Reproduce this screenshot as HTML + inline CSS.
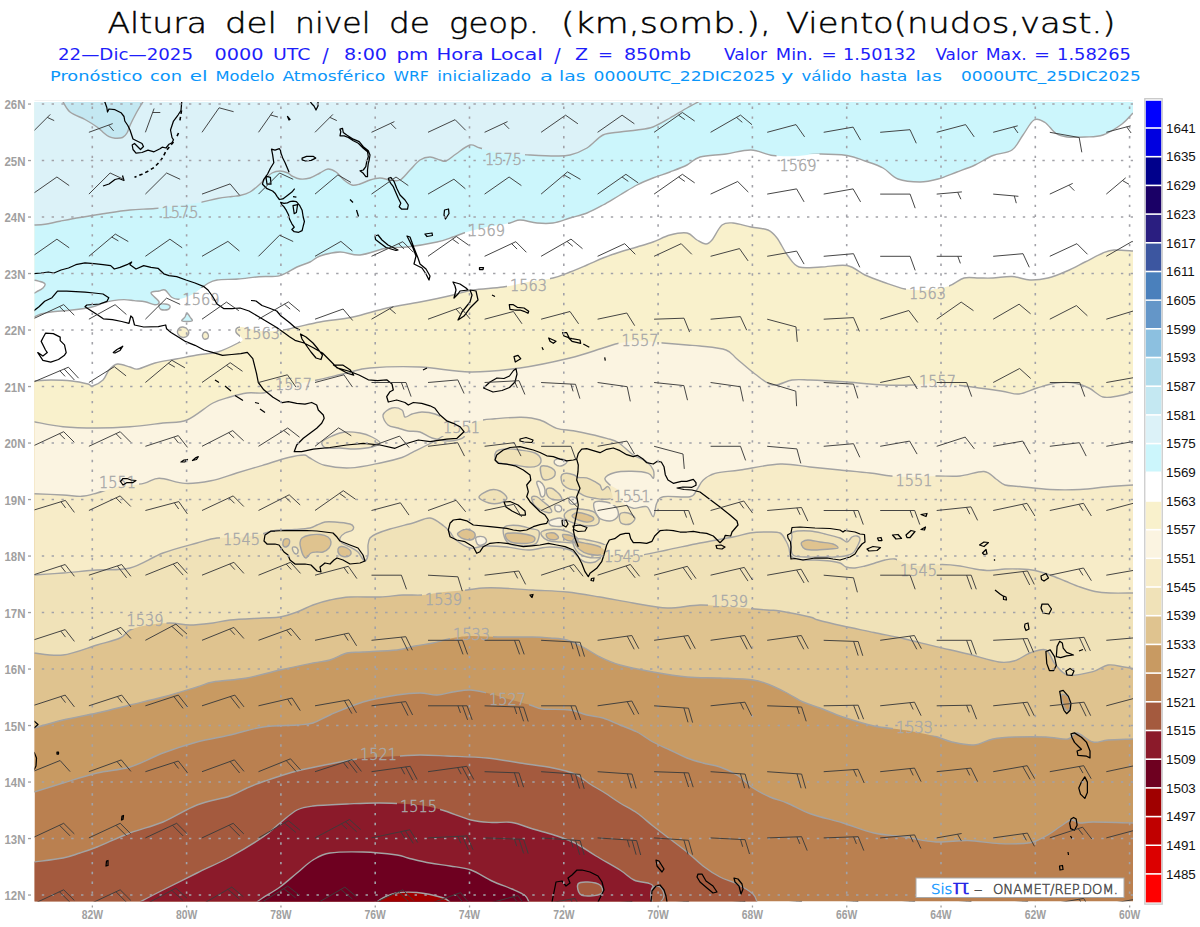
<!DOCTYPE html>
<html><head><meta charset="utf-8"><title>Altura del nivel de geop. 850mb</title>
<style>html,body{margin:0;padding:0;background:#fff;}svg{display:block;}
svg{font-family:"Liberation Sans","DejaVu Sans",sans-serif;}</style></head><body>
<svg width="1200" height="927" viewBox="0 0 1200 927">
<defs><clipPath id="mc"><rect x="34.5" y="102" width="1098.5" height="799.5"/></clipPath></defs>
<rect width="1200" height="927" fill="#fff"/>
<rect x="34.5" y="100" width="1098.5" height="0.9" fill="#F1F1F1"/>
<g clip-path="url(#mc)" stroke="none">
<rect x="34.5" y="102" width="1098.5" height="799.5" fill="#BA8050"/>
<path d="M34,792C38.8,790.5 52.5,786.2 63,783C73.5,779.8 85.8,775.7 97,773C108.2,770.3 119,770.3 130,767C141,763.7 151.8,757.2 163,753C174.2,748.8 185.8,745 197,742C208.2,739 219,737.5 230,735C241,732.5 251.8,728.7 263,727C274.2,725.3 288.7,725.7 297,725C305.3,724.3 307.5,724.7 313,723C318.5,721.3 321.7,718.5 330,715C338.3,711.5 351.8,705.3 363,702C374.2,698.7 387.5,696.5 397,695C406.5,693.5 413.3,693 420,693C426.7,693 431.5,695.2 437,695C442.5,694.8 447.5,692.8 453,692C458.5,691.2 464.3,689.8 470,690C475.7,690.2 480.7,691.5 487,693C493.3,694.5 500.8,697 508,699C515.2,701 524.2,703.3 530,705C535.8,706.7 536.3,708.2 543,709C549.7,709.8 562.7,709 570,710C577.3,711 581.5,713.7 587,715C592.5,716.3 597.5,716.3 603,718C608.5,719.7 614.3,722.7 620,725C625.7,727.3 631.5,729.2 637,732C642.5,734.8 647.5,739 653,742C658.5,745 664.3,747.3 670,750C675.7,752.7 681.5,755.8 687,758C692.5,760.2 697.5,761.5 703,763C708.5,764.5 714.3,765 720,767C725.7,769 731.5,771.5 737,775C742.5,778.5 747.5,784.3 753,788C758.5,791.7 764.3,794.5 770,797C775.7,799.5 780.2,800.2 787,803C793.8,805.8 801.7,810.7 811,814C820.3,817.3 832.5,819.8 843,823C853.5,826.2 863.7,830.7 874,833C884.3,835.3 894.7,835.5 905,837C915.3,838.5 925.5,841.4 936,842C946.5,842.6 957.5,840.2 968,840.5C978.5,840.8 988.7,843.2 999,843.6C1009.3,844 1022.2,844 1030,842.7C1037.8,841.4 1040.8,838.8 1046,836C1051.2,833.2 1056.8,828.7 1061,826C1065.2,823.3 1067.8,820.5 1071,820C1074.2,819.5 1076.3,822.7 1080,823C1083.7,823.3 1084.2,822 1093,822C1101.8,822 1126.3,822.8 1133,823L1138,823 L1138,97 L29.5,97 L29.5,792Z" fill="#C89A62"/>
<path d="M34,728C38.8,726.7 52.5,722.5 63,720C73.5,717.5 85.8,715.5 97,713C108.2,710.5 119,707.7 130,705C141,702.3 151.8,700 163,697C174.2,694 188.7,689.5 197,687C205.3,684.5 204.7,683.5 213,682C221.3,680.5 235.8,680 247,678C258.2,676 269,672.5 280,670C291,667.5 304.7,664.7 313,663C321.3,661.3 324.3,661.7 330,660C335.7,658.3 341.5,654.3 347,653C352.5,651.7 354.7,652.5 363,652C371.3,651.5 388.3,651 397,650C405.7,649 409,647.2 415,646C421,644.8 426.7,644.3 433,643C439.3,641.7 446.5,639.2 453,638C459.5,636.8 464.2,636.2 472,636C479.8,635.8 489.8,636.8 500,637C510.2,637.2 524.7,636.8 533,637C541.3,637.2 544.3,637.5 550,638C555.7,638.5 561.5,638.5 567,640C572.5,641.5 577.5,644.2 583,647C588.5,649.8 593.8,654 600,657C606.2,660 611.2,662.5 620,665C628.8,667.5 641.8,670 653,672C664.2,674 675.8,676 687,677C698.2,678 709,677.5 720,678C731,678.5 744.7,678.8 753,680C761.3,681.2 764.3,682.8 770,685C775.7,687.2 781.5,690.2 787,693C792.5,695.8 797.5,699.5 803,702C808.5,704.5 813.3,705.5 820,708C826.7,710.5 834,714 843,717C852,720 863.8,723.8 874,726C884.2,728.2 894.2,728.4 904,730C913.8,731.6 925,733.7 933,735.7C941,737.7 945.2,740.5 952,742C958.8,743.5 967.2,745.5 974,745C980.8,744.5 986.2,740.3 993,739C999.8,737.7 1006.2,737.3 1015,737C1023.8,736.7 1037.2,736.7 1046,737C1054.8,737.3 1062.8,739.7 1068,739C1073.2,738.3 1072.8,732.5 1077,733C1081.2,733.5 1087.8,740.8 1093,742C1098.2,743.2 1101.3,740.5 1108,740C1114.7,739.5 1128.8,739.2 1133,739L1138,739 L1138,97 L29.5,97 L29.5,728Z" fill="#DFC38F"/>
<path d="M34,653C38.8,653.3 52.5,656.3 63,655C73.5,653.7 87.5,647.8 97,645C106.5,642.2 114.5,640.5 120,638C125.5,635.5 125.3,632.2 130,630C134.7,627.8 141.3,626.2 148,625C154.7,623.8 163,623 170,623C177,623 182.8,625 190,625C197.2,625 206.3,623.8 213,623C219.7,622.2 221.7,620.8 230,620C238.3,619.2 254.7,618.5 263,618C271.3,617.5 274.3,618 280,617C285.7,616 291.5,614 297,612C302.5,610 307.5,607 313,605C318.5,603 323.8,601.3 330,600C336.2,598.7 341.7,597.5 350,597C358.3,596.5 371.2,597.3 380,597C388.8,596.7 395.8,595.3 403,595C410.2,594.7 416.2,595.5 423,595C429.8,594.5 436.7,592.8 444,592C451.3,591.2 460.5,590.7 467,590C473.5,589.3 477.5,588.3 483,588C488.5,587.7 491.7,587.7 500,588C508.3,588.3 521.8,589.3 533,590C544.2,590.7 555.8,590.8 567,592C578.2,593.2 589,595.2 600,597C611,598.8 621.8,601.2 633,603C644.2,604.8 655.8,607.7 667,608C678.2,608.3 689.5,605.2 700,605C710.5,604.8 718.8,606.2 730,607C741.2,607.8 758.7,609.3 767,610C775.3,610.7 772.8,609.8 780,611C787.2,612.2 803.7,615.5 810,617C816.3,618.5 812.5,618.5 818,620C823.5,621.5 833.7,623.9 843,626C852.3,628.1 863.7,630.3 874,632.5C884.3,634.7 894.7,636.6 905,639C915.3,641.4 925.5,644.1 936,646.6C946.5,649.1 957.5,651.4 968,654C978.5,656.6 991.2,660.9 999,662C1006.8,663.1 1009.8,662.2 1015,660.7C1020.2,659.2 1024.8,654.8 1030,653C1035.2,651.2 1041.8,648.2 1046,650C1050.2,651.8 1051.3,659.8 1055,664C1058.7,668.2 1061.7,673.7 1068,675C1074.3,676.3 1086.3,673.3 1093,671.6C1099.7,669.9 1102.8,665.8 1108,665C1113.2,664.2 1119.8,666.4 1124,667C1128.2,667.6 1131.5,668.2 1133,668.5L1138,668.5 L1138,97 L29.5,97 L29.5,653Z" fill="#F0E2B8"/>
<path d="M34,575C38.8,574.7 52.5,573.8 63,573C73.5,572.2 85.8,570.8 97,570C108.2,569.2 119,570.8 130,568C141,565.2 151.8,557.2 163,553C174.2,548.8 188,545.5 197,543C206,540.5 209.7,538.9 217,538C224.3,537.1 233.5,538.2 241,537.5C248.5,536.8 256.3,535.2 262,534C267.7,532.8 269.5,531.2 275,530.5C280.5,529.8 289.2,529.9 295,529.5C300.8,529.1 306.3,528.8 310,528C313.7,527.2 314.5,526 317,525C319.5,524 322,522.5 325,522C328,521.5 330.8,521.7 335,522C339.2,522.3 346.9,523.2 350,524C353.1,524.8 353.2,525.9 353.5,527C353.8,528.1 353.4,529.5 352,530.5C350.6,531.5 347,531.8 345,533C343,534.2 340.5,536.3 340,538C339.5,539.7 340.3,541.5 342,543C343.7,544.5 347.3,545.5 350,547C352.7,548.5 356,550.2 358,552C360,553.8 360.8,556.5 362,558C363.2,559.5 364,561.5 365,561C366,560.5 367.5,557.7 368,555C368.5,552.3 367.7,547.8 368,545C368.3,542.2 368.7,539.8 370,538C371.3,536.2 372.7,535.5 376,534C379.3,532.5 383.8,530.8 390,529C396.2,527.2 406.3,524.8 413,523C419.7,521.2 424.9,517.5 430,518C435.1,518.5 440.4,523.6 443.8,526C447.2,528.4 448.3,530.2 450.3,532.5C452.3,534.8 452.7,537.4 456,540C459.3,542.6 465.2,547 470,548C474.8,549 478.8,546.2 485,546C491.2,545.8 499.8,546.3 507,547C514.2,547.7 520.8,550 528,550C535.2,550 543,547 550,547C557,547 565.3,548.3 570,550C574.7,551.7 575.5,555 578,557C580.5,559 582.2,561.2 585,562C587.8,562.8 591.8,563 595,562C598.2,561 599.5,557.2 604,556C608.5,554.8 615.8,555.2 622,555C628.2,554.8 633.5,555.8 641,555C648.5,554.2 657.2,552 667,550C676.8,548 689,545.2 700,543C711,540.8 724.7,538.7 733,537C741.3,535.3 744.3,533.8 750,533C755.7,532.2 762,532 767,532C772,532 776.8,531.5 780,533C783.2,534.5 784.5,538.5 786,541C787.5,543.5 788.2,545.5 789,548C789.8,550.5 789.2,554.1 791,556C792.8,557.9 796,558.8 800,559.5C804,560.2 810,559.8 815,560C820,560.2 825.8,560.5 830,561C834.2,561.5 837.3,562 840,563C842.7,564 843.5,566.2 846,567C848.5,567.8 851.8,568.2 855,568C858.2,567.8 861.7,566.8 865,566C868.3,565.2 871.7,564 875,563C878.3,562 881.7,560.7 885,560C888.3,559.3 891.7,558.5 895,559C898.3,559.5 901.2,561.8 905,563C908.8,564.2 911.8,565.8 918,566C924.2,566.2 935,564.5 942,564.5C949,564.5 954.5,565.2 960,566C965.5,566.8 970,568.2 975,569C980,569.8 985,570.5 990,570.5C995,570.5 1000,569.2 1005,569C1010,568.8 1015,568.8 1020,569C1025,569.2 1030,569.5 1035,570.5C1040,571.5 1045,573.2 1050,575C1055,576.8 1060,579 1065,581C1070,583 1075,585.2 1080,587C1085,588.8 1090,590.5 1095,591.5C1100,592.5 1103.7,592.8 1110,593C1116.3,593.2 1129.2,593 1133,593L1138,593 L1138,97 L29.5,97 L29.5,575Z" fill="#F7ECC8"/>
<path d="M34,493.7C38.8,493.9 55,494.6 63,495C71,495.4 76,496.6 81.7,496.3C87.4,496 91.1,494.6 97,493C102.9,491.4 109.2,488.6 117,487C124.8,485.4 136.7,484.9 143.7,483.4C150.7,481.9 152.3,478.2 159.2,478.2C166.1,478.2 176.4,483 185,483.4C193.6,483.8 202.3,482.5 210.9,480.8C219.5,479.1 228.1,475.6 236.7,473C245.3,470.4 254,467.9 262.6,465.3C271.2,462.7 281.5,459.2 288.4,457.5C295.3,455.8 300.6,455 304,455C307.4,455 305.6,455.8 309,457.5C312.4,459.2 317.7,463.6 324.6,465.3C331.5,467 340.9,468.3 350.4,467.9C359.9,467.5 372.8,464.4 381.4,462.7C390,461 396.8,459.2 402,457.5C407.2,455.8 407.2,455 412.4,452.4C417.6,449.8 426.7,445.4 433,442C439.3,438.6 444.5,434.8 450,432C455.5,429.2 460.5,427 466,425C471.5,423 478.2,421 483,420C487.8,419 488.7,419.3 495,418.8C501.3,418.3 513.5,417 521,417.2C528.5,417.4 534,418.1 540,420C546,421.9 551.2,426.5 556.7,428.3C562.2,430.1 567.8,429.8 573.3,430.8C578.8,431.8 584.4,432.9 590,434.2C595.6,435.4 602,436.9 606.7,438.3C611.4,439.7 613.9,439.7 618.3,442.5C622.7,445.3 628.6,451.8 633.3,455C638,458.2 643.4,459.2 646.7,461.7C650,464.2 652.2,467.2 653.3,470C654.4,472.8 654.1,477.8 653.3,478.3C652.5,478.9 651.9,474.5 648.3,473.3C644.7,472.1 637.2,471.4 631.7,471.3C626.2,471.2 619.5,471.3 615,472.5C610.5,473.7 605.8,476.2 605,478.3C604.2,480.4 607.8,483.1 610,485C612.2,486.9 616.6,488.1 618.3,490C620,491.9 619.2,494.5 620,496.7C620.8,498.9 621.1,501.4 623.3,503.3C625.5,505.2 629.4,507.7 633.3,508.3C637.2,508.9 643.4,505.3 646.7,506.7C650,508.1 651.6,517.3 653.3,516.7C655,516.1 655,506.6 656.7,503.3C658.4,500 657.8,497.8 663.3,496.7C668.8,495.6 684.4,497.8 690,496.7C695.6,495.6 694.5,492.8 696.7,490C698.9,487.2 700.2,482.8 703.3,480C706.3,477.2 708.9,475 715,473.3C721.1,471.6 729.2,471.6 740,470C750.8,468.4 768.3,464.5 780,464C791.7,463.5 800,466 810,467C820,468 830,469 840,470C850,471 861.5,472 870,473C878.5,474 883.7,475.3 891,476C898.3,476.7 906.5,477 914,477C921.5,477 928.3,476.2 936,476C943.7,475.8 952,476.8 960,476C968,475.2 978,471 984,471.5C990,472 992.5,476.8 996,479C999.5,481.2 1001,483.8 1005,485C1009,486.2 1012.5,485.8 1020,486.5C1027.5,487.2 1040,489 1050,489.5C1060,490 1070,490 1080,489.5C1090,489 1101.2,487.2 1110,486.5C1118.8,485.8 1129.2,485.2 1133,485L1138,485 L1138,97 L29.5,97 L29.5,493.7Z" fill="#FBF4E1"/>
<path d="M34,421.7C38.8,422.5 52.5,425.6 63,426.7C73.5,427.8 85.8,428 97,428C108.2,428 119,427.5 130,426.7C141,425.9 153.5,424.1 163,423C172.5,421.9 178.7,423.3 187,420C195.3,416.7 205.8,406.8 213,403C220.2,399.2 224.3,398.7 230,397C235.7,395.3 241.5,393.7 247,393C252.5,392.3 258.7,393.5 263,393C267.3,392.5 268,391.3 273,390C278,388.7 285.7,386.7 293,385C300.3,383.3 308,382 317,380C326,378 338.2,375 347,373C355.8,371 357.8,369 370,368C382.2,367 403.3,366.3 420,367C436.7,367.7 453.3,371.8 470,372C486.7,372.2 503.3,370.3 520,368C536.7,365.7 556.2,361.3 570,358C583.8,354.7 594.7,350.5 603,348C611.3,345.5 613.8,344.2 620,343C626.2,341.8 632.8,341 640,341C647.2,341 655.2,342.3 663,343C670.8,343.7 680.8,344.5 687,345C693.2,345.5 693.5,345.2 700,346C706.5,346.8 719.8,347.8 726,350C732.2,352.2 732.2,355 737,359C741.8,363 749,369.7 755,374C761,378.3 766.8,384 773,385C779.2,386 785.8,380.8 792,380C798.2,379.2 800.8,379.7 810,380C819.2,380.3 834.8,381.2 847,382C859.2,382.8 872,384.5 883,385C894,385.5 904,385.3 913,385C922,384.7 928.5,382.8 937,383C945.5,383.2 953.3,384.7 964,386C974.7,387.3 991.8,389.7 1001,391C1010.2,392.3 1013,394.5 1019,394C1025,393.5 1030.8,389.8 1037,388C1043.2,386.2 1049.8,383.8 1056,383C1062.2,382.2 1068.5,382.2 1074,383C1079.5,383.8 1084.2,385.7 1089,388C1093.8,390.3 1098.2,395.7 1103,397C1107.8,398.3 1113,396.8 1118,396C1123,395.2 1130.5,392.7 1133,392L1138,392 L1138,97 L29.5,97 L29.5,421.7Z" fill="#F9F1CC"/>
<path d="M34,381C36.8,380.8 44.7,380 51,380C57.3,380 65.8,380.3 72,381C78.2,381.7 84.6,383.2 88,384C91.4,384.8 90,386.7 92.5,386C95,385.3 100.2,382.7 103,380C105.8,377.3 106.6,372.7 109,370C111.4,367.3 114,364.5 117.5,364C121,363.5 126.6,366.2 130,367C133.4,367.8 133.8,369.7 138,369C142.2,368.3 148.7,364.7 155,363C161.3,361.3 169,360.3 176,359C183,357.7 190.1,356.2 197,355C203.9,353.8 210.7,354 217.5,352C224.3,350 233.8,345.2 238,343C242.2,340.8 242.8,340.8 242.5,339C242.2,337.2 236.4,334 236,332C235.6,330 235.7,327.2 240,327C244.3,326.8 254.8,330.5 262,331C269.2,331.5 277.2,330.7 283,330C288.8,329.3 290.8,328.3 297,327C303.2,325.7 310.7,323.7 320,322C329.3,320.3 341.8,319.3 353,317C364.2,314.7 375.8,310.5 387,308C398.2,305.5 409,304.2 420,302C431,299.8 444.2,297 453,295C461.8,293 464.7,291.3 473,290C481.3,288.7 493.8,288.3 503,287C512.2,285.7 519.7,283.5 528,282C536.3,280.5 546,279.7 553,278C560,276.3 564.3,274.2 570,272C575.7,269.8 581.5,267.3 587,265C592.5,262.7 597.5,260.2 603,258C608.5,255.8 614.3,253.8 620,252C625.7,250.2 631.5,248.7 637,247C642.5,245.3 647.5,244 653,242C658.5,240 664.3,236.5 670,235C675.7,233.5 682.5,232.2 687,233C691.5,233.8 693.8,238.2 697,240C700.2,241.8 703.5,244 706,244C708.5,244 709.3,243.2 712,240C714.7,236.8 718.5,227.8 722,225C725.5,222.2 728.2,222.7 733,223C737.8,223.3 745.2,225.8 751,227C756.8,228.2 763.7,228.2 768,230C772.3,231.8 773.7,233.7 777,238C780.3,242.3 784.3,251.2 788,256C791.7,260.8 793.5,265.2 799,267C804.5,268.8 813,267.2 821,267C829,266.8 839.7,264.2 847,265.5C854.3,266.8 859,272.2 865,275C871,277.8 876.3,279.7 883,282C889.7,284.3 897.7,287.7 905,289C912.3,290.3 919.7,290.5 927,290C934.3,289.5 942.8,288 949,286C955.2,284 959,279.3 964,278C969,276.7 974.2,278 979,278C983.8,278 987.5,278.2 993,278C998.5,277.8 1005.8,276.2 1012,276.5C1018.2,276.8 1024,279.8 1030,280C1036,280.2 1041.8,279.5 1048,278C1054.2,276.5 1060.8,273.7 1067,271C1073.2,268.3 1079,265 1085,262C1091,259 1098.2,255 1103,253C1107.8,251 1109,250.3 1114,250C1119,249.7 1129.8,250.8 1133,251L1138,251 L1138,97 L29.5,97 L29.5,381Z" fill="#FFFFFF"/>
<path d="M34,317C35.2,316.5 38.2,314.8 41,314C43.8,313.2 45.8,312.7 51,312C56.2,311.3 65.2,310.8 72,310C78.8,309.2 86.8,308.2 92,307C97.2,305.8 99.5,304.1 103,303C106.5,301.9 109.5,301.2 113,300.6C116.5,300 120.5,299.6 124,299.6C127.5,299.6 130.5,300.2 134,300.6C137.5,301 141.5,301 145,301.7C148.5,302.4 152.7,304.8 155,304.8C157.3,304.8 159.7,303.7 159,301.7C158.3,299.7 151,294.8 151,293C151,291.2 156.7,291.5 159,291C161.3,290.5 162.8,288.9 165,290C167.2,291.1 169.5,296 172,297.5C174.5,299 176.5,299.6 180,299C183.5,298.4 188.5,296.5 193,294C197.5,291.5 203,286.3 207,284C211,281.7 211.8,280.8 217,280C222.2,279.2 231,279.6 238,279C245,278.4 252,277.3 259,276.7C266,276.1 273.7,277.2 280,275.6C286.3,274 292,269.3 297,267C302,264.7 306.2,263.8 310,262C313.8,260.2 315,257.7 320,256C325,254.3 333.3,252.2 340,252C346.7,251.8 352.2,255.7 360,255C367.8,254.3 379.2,249.3 387,248C394.8,246.7 398.7,248 407,247C415.3,246 429.3,243.7 437,242C444.7,240.3 448,238.7 453,237C458,235.3 461.3,233.7 467,232C472.7,230.3 479.8,228.5 487,227C494.2,225.5 504.5,224.2 510,223C515.5,221.8 515.5,220 520,220C524.5,220 531.5,222.5 537,223C542.5,223.5 547.5,223.8 553,223C558.5,222.2 564.3,219.7 570,218C575.7,216.3 581.5,215.2 587,213C592.5,210.8 597.5,208 603,205C608.5,202 614.3,198.3 620,195C625.7,191.7 631.5,187.8 637,185C642.5,182.2 647.5,180.2 653,178C658.5,175.8 664.3,174.2 670,172C675.7,169.8 682,167.5 687,165C692,162.5 693.5,158.8 700,157C706.5,155.2 717.5,155.2 726,154C734.5,152.8 743.2,149.8 751,150C758.8,150.2 765.2,154.5 773,155.5C780.8,156.5 790.7,156.2 798,156C805.3,155.8 808.8,154.1 817,154C825.2,153.9 839,154.3 847,155.5C855,156.7 859,158.9 865,161C871,163.1 877.5,165 883,168C888.5,171 891.8,176.7 898,179C904.2,181.3 913.3,182 920,182C926.7,182 931.8,180.7 938,179C944.2,177.3 950.8,174.3 957,172C963.2,169.7 969,167.8 975,165C981,162.2 986.8,158 993,155.5C999.2,153 1007,153.4 1012,150C1017,146.6 1019.3,140 1023,135C1026.7,130 1030.3,122.1 1034,120C1037.7,117.9 1041.3,120.2 1045,122.5C1048.7,124.8 1052.3,131.1 1056,133.5C1059.7,135.9 1062.2,136.4 1067,137C1071.8,137.6 1079,137.3 1085,137C1091,136.7 1096.8,137.2 1103,135C1109.2,132.8 1117,127.7 1122,124C1127,120.3 1131.2,114.8 1133,113L1138,113 L1138,97 L29.5,97 L29.5,317Z" fill="#CCF6FC"/>
<path d="M34,225C35.8,224.9 40.7,224.9 45,224.3C49.3,223.7 54.2,222.3 60,221.2C65.8,220.1 72.5,218.8 80,217.5C87.5,216.2 96.7,214.8 105,213.5C113.3,212.2 121.7,210.8 130,210C138.3,209.2 146.7,209.2 155,208.5C163.3,207.8 172.5,206.5 180,205.5C187.5,204.5 193.8,203.7 200,202.5C206.2,201.3 212.2,199.5 217.5,198.5C222.8,197.5 228.2,197 232,196.5C235.8,196 237,196.2 240,195.5C243,194.8 246.7,193.9 250,192C253.3,190.1 257.3,186.3 260,184C262.7,181.7 264,179.8 266,178C268,176.2 269.7,174.2 272,173C274.3,171.8 277.3,171 280,171C282.7,171 286,172.2 288,173C290,173.8 290,175 292,176C294,177 297,178.7 300,179C303,179.3 306.7,179 310,178C313.3,177 317,174.5 320,173C323,171.5 325.3,169.2 328,169C330.7,168.8 333.3,170.2 336,172C338.7,173.8 341.3,177.8 344,180C346.7,182.2 349.3,184.3 352,185C354.7,185.7 357,184.8 360,184C363,183.2 366.7,181 370,180C373.3,179 376.7,178 380,178C383.3,178 386.7,179.7 390,180C393.3,180.3 396.7,181.7 400,180C403.3,178.3 406.7,173.3 410,170C413.3,166.7 416.7,162.2 420,160C423.3,157.8 426.7,157 430,157C433.3,157 437.3,159.3 440,160C442.7,160.7 443.3,162 446,161C448.7,160 452,156.7 456,154C460,151.3 466,146 470,145C474,144 475,146.7 480,148C485,149.3 491.7,151.8 500,153C508.3,154.2 520.8,154.5 530,155C539.2,155.5 548.3,156 555,156C561.7,156 564.7,156.3 570,155C575.3,153.7 581.5,151.3 587,148C592.5,144.7 597.5,137.7 603,135C608.5,132.3 614.3,132.8 620,132C625.7,131.2 631.5,130.8 637,130C642.5,129.2 647.5,129 653,127C658.5,125 664.3,121.2 670,118C675.7,114.8 682,110.8 687,108C692,105.2 697.8,102.2 700,101L29.5,97 L29.5,225Z" fill="#DCF2F8"/>
<path d="M62.5,101C63.8,102.8 66.2,108.9 70,112C73.8,115.1 80.5,117 85,119.5C89.5,122 94,124.9 97,127C100,129.1 101,130.6 103,132.2C105,133.8 107,135.7 109,136.7C111,137.7 112.8,138.1 115,138.2C117.2,138.3 120.5,138.4 122.5,137.5C124.5,136.6 125.8,135 127,133C128.2,131 128.5,128.8 130,125.5C131.5,122.2 133.8,117.6 136,113.5C138.2,109.4 142.2,103.1 143.5,101Z" fill="#C4E8F2"/>
<path d="M34,862C38.8,861.3 55.3,859.5 63,858C70.7,856.5 74.3,854.8 80,853C85.7,851.2 88.7,850.3 97,847C105.3,843.7 119,837.2 130,833C141,828.8 151.8,826.7 163,822C174.2,817.3 185.8,809.3 197,805C208.2,800.7 221.7,798.8 230,796C238.3,793.2 241.2,790.5 247,788C252.8,785.5 256.7,783.8 265,781C273.3,778.2 286.2,773.8 297,771C307.8,768.2 320,766 330,764C340,762 349,760.2 357,759C365,757.8 370.8,757.5 378,757C385.2,756.5 393,756.3 400,756C407,755.7 412.2,755 420,755C427.8,755 435.8,755.5 447,756C458.2,756.5 474.8,756.8 487,758C499.2,759.2 509,761.3 520,763C531,764.7 543.8,766.2 553,768C562.2,769.8 568.8,771.3 575,774C581.2,776.7 585,780.8 590,784C595,787.2 600,789.8 605,793C610,796.2 614.7,799.7 620,803C625.3,806.3 631.5,809.2 637,813C642.5,816.8 647.5,821.7 653,826C658.5,830.3 664.3,834.7 670,839C675.7,843.3 681.5,847.5 687,852C692.5,856.5 697.5,861.8 703,866C708.5,870.2 714.3,874 720,877C725.7,880 731.5,881.2 737,884C742.5,886.8 749.7,891 753,894C756.3,897 756.3,900.7 757,902L29.5,906.5 L29.5,862Z" fill="#A45A3E"/>
<path d="M140,902C143.8,900 153.5,894.8 163,890C172.5,885.2 185.8,878.5 197,873C208.2,867.5 219,863 230,857C241,851 254.7,842.7 263,837C271.3,831.3 274.3,827.5 280,823C285.7,818.5 291.5,812.8 297,810C302.5,807.2 304.7,807 313,806C321.3,805 335.8,804.5 347,804C358.2,803.5 368.2,802.8 380,803C391.8,803.2 407.7,803.8 418,805C428.3,806.2 433.2,807.5 442,810C450.8,812.5 462.7,817.9 471,820C479.3,822.1 485.2,822.1 492,822.5C498.8,822.9 505.2,821.4 512,822.5C518.8,823.6 526,826.9 533,829C540,831.1 547,832.7 554,835C561,837.3 568,839.5 575,843C582,846.5 588.5,851.5 596,856C603.5,860.5 613.7,866 620,870C626.3,874 629.3,877.8 634,880C638.7,882.2 644.8,882 648,883C651.2,884 652.5,884.2 653,886C653.5,887.8 651.2,891.3 651,894C650.8,896.7 651.8,900.7 652,902Z" fill="#8B1A2A"/>
<path d="M257,902C257.9,901.3 258.7,900.5 262.5,898C266.3,895.5 274.2,891.2 280,887C285.8,882.8 291.5,877.5 297,873C302.5,868.5 307.5,863.3 313,860C318.5,856.7 321.7,854.3 330,853C338.3,851.7 351.8,851.7 363,852C374.2,852.3 389.5,854 397,855C404.5,856 402.5,856.7 408,858C413.5,859.3 423,861.7 430,863C437,864.3 443.2,864.8 450,866C456.8,867.2 464,867.5 471,870C478,872.5 485.2,877.8 492,881C498.8,884.2 506.5,886.6 512,889C517.5,891.4 522.2,893.3 525,895.5C527.8,897.7 528.3,900.9 529,902Z" fill="#6E0020"/>
<path d="M377,902C378,901.3 379.8,899.5 383,898C386.2,896.5 390.3,893.9 396,893C401.7,892.1 409.3,891.8 417,892.5C424.7,893.2 436.5,895.9 442,897.5C447.5,899.1 448.7,901.2 450,902Z" fill="#A00000"/>
<path d="M33,281C34.2,279.2 38,281 40,281.5C42,282 44.5,282.9 45,284C45.5,285.1 44.2,286.8 43,288C41.8,289.2 39.7,290.2 38,291C36.3,291.8 33.8,294.2 33,292.5C32.2,290.8 31.8,282.8 33,281Z" fill="#FFFFFF"/>
<path d="M159,305C159.7,304.1 163.2,303.8 165,304C166.8,304.2 169.5,305.1 170,306C170.5,306.9 169.5,308.9 168,309.5C166.5,310.1 162.5,310.2 161,309.5C159.5,308.8 158.3,305.9 159,305Z" fill="#CCF6FC"/>
<path d="M187,313C187.8,313 189.2,315.7 190,317C190.8,318.3 193.3,320.3 192,321C190.7,321.7 183.2,321.7 182,321C180.8,320.3 184.2,318.3 185,317C185.8,315.7 186.2,313 187,313Z" fill="#CCF6FC"/>
<path d="M183,327C184.6,327.2 187.2,328.7 188,330C188.8,331.3 188.8,333.8 188,335C187.2,336.2 184.7,337.7 183,337.5C181.3,337.3 178.8,335.4 178,334C177.2,332.6 177.7,330.2 178.5,329C179.3,327.8 181.4,326.8 183,327Z" fill="#F9F1CC"/>
<path d="M205,332C205.9,331.8 207.5,333 208,334C208.5,335 208.7,337.2 208,338C207.3,338.8 204.9,339.5 204,339C203.1,338.5 202.3,336.2 202.5,335C202.7,333.8 204.1,332.2 205,332Z" fill="#F9F1CC"/>
<path d="M322,442C323,440 328.2,437.7 332,436C335.8,434.3 340.3,432.5 345,432C349.7,431.5 355.5,432.2 360,433C364.5,433.8 368.7,435.3 372,437C375.3,438.7 380,441.3 380,443C380,444.7 376.2,446 372,447C367.8,448 360.3,448.8 355,449C349.7,449.2 344.8,448.2 340,448C335.2,447.8 329,449 326,448C323,447 321,444 322,442Z" fill="#F7ECC8"/>
<path d="M383,415C383.7,412.2 388.8,408.8 392,408C395.2,407.2 399.8,408.5 402,410C404.2,411.5 403.3,416.3 405,417C406.7,417.7 409.2,414.8 412,414C414.8,413.2 418.2,412 422,412C425.8,412 430.3,412.3 435,414C439.7,415.7 445.8,419.3 450,422C454.2,424.7 457.7,427.5 460,430C462.3,432.5 465.7,435.2 464,437C462.3,438.8 455.3,440.8 450,441C444.7,441.2 437,439.5 432,438C427,436.5 424,433.2 420,432C416,430.8 411.7,431.7 408,431C404.3,430.3 401.3,429 398,428C394.7,427 390.5,427.2 388,425C385.5,422.8 382.3,417.8 383,415Z" fill="#F7ECC8"/>
<path d="M300,543C300.2,541.2 300.3,539.3 302,538C303.7,536.7 307,535.6 310,535C313,534.4 317,534.2 320,534.5C323,534.8 326.2,535.8 328,537C329.8,538.2 330.8,540.2 331,542C331.2,543.8 330.3,546.3 329,548C327.7,549.7 325,551.3 323,552C321,552.7 319,551.8 317,552C315,552.2 312.8,552 311,553C309.2,554 307.3,557.7 306,558C304.7,558.3 303.8,556.5 303,555C302.2,553.5 301.5,551 301,549C300.5,547 299.8,544.8 300,543Z" fill="#DFC38F"/>
<path d="M283,542C283.2,540.8 284,539.4 285,539C286,538.6 288.2,538.8 289,539.5C289.8,540.2 289.8,541.8 289.5,543C289.2,544.2 288,546 287,546.5C286,547 284.2,546.8 283.5,546C282.8,545.2 282.8,543.2 283,542Z" fill="#DFC38F"/>
<path d="M338,549C338.3,547.8 339.5,546.7 341,546.5C342.5,546.3 345.3,547.1 347,548C348.7,548.9 350.7,550.7 351,552C351.3,553.3 350.3,555.2 349,556C347.7,556.8 344.7,556.8 343,556.5C341.3,556.2 339.8,555.2 339,554C338.2,552.8 337.7,550.2 338,549Z" fill="#DFC38F"/>
<path d="M293,547C293.7,546.5 296.2,547.2 297,548C297.8,548.8 298.2,551 298,552C297.8,553 296.8,554.2 296,554C295.2,553.8 293.5,552.2 293,551C292.5,549.8 292.3,547.5 293,547Z" fill="#F7ECC8"/>
<path d="M793,532C796,531 804.7,530.7 810,531C815.3,531.3 820,532.8 825,534C830,535.2 836.3,536.7 840,538C843.7,539.3 845,542.2 847,542C849,541.8 850.3,538 852,537C853.7,536 855.7,535.7 857,536C858.3,536.3 859.8,537.5 860,539C860.2,540.5 859.2,542.7 858,545C856.8,547.3 855.2,551.2 853,553C850.8,554.8 848,555.3 845,556C842,556.7 838.3,556.8 835,557C831.7,557.2 830,557 825,557C820,557 810.3,557.3 805,557C799.7,556.7 795.3,557 793,555C790.7,553 791.2,548 791,545C790.8,542 791.7,539.2 792,537C792.3,534.8 790,533 793,532Z" fill="#F0E2B8"/>
<path d="M802,542C803.1,541.2 805,540 808,540C811,540 815.8,541.3 820,542C824.2,542.7 830,543 833,544C836,545 838.5,547.2 838,548C837.5,548.8 833.8,548.7 830,549C826.2,549.3 819.2,550 815,550C810.8,550 807.2,549.8 805,549C802.8,548.2 802,546.2 801.5,545C801,543.8 800.9,542.8 802,542Z" fill="#DFC38F"/>
<path d="M496,452C497.5,450 501,449.3 505,449C509,448.7 515,449.3 520,450C525,450.7 531.5,451.3 535,453C538.5,454.7 540.7,457.8 541,460C541.3,462.2 539.3,464.8 537,466C534.7,467.2 530.7,467.2 527,467C523.3,466.8 518.7,465.5 515,465C511.3,464.5 508.2,464.7 505,464C501.8,463.3 497.5,463 496,461C494.5,459 494.5,454 496,452Z" fill="#F0E2B8"/>
<path d="M540.8,466.7C541.8,465 545.3,465.8 547.5,466.3C549.7,466.9 553,468.6 554.2,470C555.5,471.4 555.4,473.6 555,475C554.6,476.4 553.4,477.5 551.7,478.3C550,479.1 546.7,480.3 545,480C543.3,479.7 542.4,478.9 541.7,476.7C541,474.5 539.8,468.4 540.8,466.7Z" fill="#F0E2B8"/>
<path d="M561.7,475C562.6,473.9 564.6,473.3 566.7,473.3C568.8,473.3 572.3,474.3 574.2,475C576.1,475.7 576.2,477 578.3,477.5C580.4,478 583.9,477.2 586.7,477.9C589.5,478.6 592.8,480.5 595,481.7C597.2,482.9 598.8,483.6 600,485C601.2,486.4 601.1,489.7 602.5,490C603.9,490.3 606.6,485.4 608.3,486.7C610,487.9 613.3,495.4 612.5,497.5C611.7,499.6 606.2,499.1 603.3,499.2C600.4,499.3 597.8,498.7 595,498.3C592.2,497.9 589.2,497.5 586.7,496.7C584.2,495.9 581.7,494.4 580,493.3C578.3,492.2 578.4,490.7 576.7,490C575,489.3 572.2,490 570,489.2C567.8,488.4 564.8,486.5 563.3,485C561.8,483.5 561.6,481.7 561.3,480C561,478.3 560.8,476.1 561.7,475Z" fill="#F0E2B8"/>
<path d="M546.7,489.2C547.4,487.9 550,487.9 551.7,488.3C553.4,488.7 555.3,490.6 556.7,491.7C558.1,492.8 559.2,493.8 560,495C560.8,496.2 562.1,498.4 561.7,499.2C561.3,500 559.2,500 557.5,500C555.8,500 553.4,499.9 551.7,499.2C550,498.5 548.3,497.5 547.5,495.8C546.7,494.1 546,490.4 546.7,489.2Z" fill="#F0E2B8"/>
<path d="M531.7,497.5C532.1,496.1 534.8,496 536.7,496.7C538.6,497.4 541.2,500 543.3,501.7C545.4,503.4 547.8,505 549.2,506.7C550.6,508.4 552,510.7 551.7,511.7C551.4,512.7 549.3,512.8 547.5,512.5C545.7,512.2 543,511.2 540.8,510C538.6,508.8 535.7,507.1 534.2,505C532.7,502.9 531.3,498.9 531.7,497.5Z" fill="#F0E2B8"/>
<path d="M479,497C479.2,494.8 486.5,491 490,490C493.5,489 497.2,489.7 500,491C502.8,492.3 507,496 507,498C507,500 503,502.2 500,503C497,503.8 492.5,504 489,503C485.5,502 478.8,499.2 479,497Z" fill="#F0E2B8"/>
<path d="M565,513.3C566.1,511.8 568.8,509.9 571.7,509.2C574.6,508.5 578.9,508.8 582.5,509.2C586.1,509.6 590.7,510.4 593.3,511.7C595.9,513 597.5,514.8 598.3,516.7C599.1,518.6 599.4,521.8 598.3,523.3C597.2,524.8 594.8,525.5 591.7,525.8C588.7,526.1 583.6,525.7 580,525C576.4,524.3 572.5,522.8 570,521.7C567.5,520.6 565.8,519.7 565,518.3C564.2,516.9 563.9,514.8 565,513.3Z" fill="#F0E2B8"/>
<path d="M572.5,515C573.3,514.2 575.7,512.5 578.3,512.5C580.9,512.5 585.8,514.2 588.3,515C590.8,515.8 592.6,516.5 593.3,517.5C594,518.5 593.6,520 592.5,520.8C591.4,521.6 589.1,522.2 586.7,522.1C584.3,522 580.5,520.8 578.3,520C576.1,519.2 574.3,518.3 573.3,517.5C572.3,516.7 571.7,515.8 572.5,515Z" fill="#DFC38F"/>
<path d="M458,533C459.1,531.9 463,529.5 465.5,529.3C468,529 471.4,530.4 473,531.5C474.6,532.6 475.4,534.6 475.2,536C474.9,537.4 473.4,539.3 471.5,539.8C469.6,540.3 466.1,539.6 464,539C461.9,538.4 459.8,537 458.8,536C457.8,535 456.9,534.1 458,533Z" fill="#DFC38F"/>
<path d="M504.5,527C506.8,525 513.8,525.2 518,525.5C522.2,525.8 526.5,527.5 530,528.5C533.5,529.5 538,529 539,531.5C540,534 538.5,541.1 536,543.5C533.5,545.9 528.2,545.7 524,545.8C519.8,545.9 513.8,545.7 510.5,544.3C507.2,542.9 505.5,540.4 504.5,537.5C503.5,534.6 502.2,529 504.5,527Z" fill="#F0E2B8"/>
<path d="M506,533.8C507.4,532.8 511.5,532.9 515,533C518.5,533.1 523.8,533.8 527,534.5C530.2,535.2 533.5,536.2 534.5,537.5C535.5,538.8 534.8,541 533,542C531.2,543 527.2,543.4 524,543.5C520.8,543.6 516.4,543.5 513.5,542.8C510.6,542 508.1,540.5 506.8,539C505.6,537.5 504.6,534.8 506,533.8Z" fill="#DFC38F"/>
<path d="M542,531.5C544,530.4 549.8,529.3 554,529.3C558.2,529.3 564,530.4 567.5,531.5C571,532.6 573.2,534.5 575,536C576.8,537.5 578.5,539.4 578,540.5C577.5,541.6 575,542.5 572,542.8C569,543 564,542.4 560,542C556,541.6 551,541.5 548,540.5C545,539.5 543,537.5 542,536C541,534.5 540,532.6 542,531.5Z" fill="#F0E2B8"/>
<path d="M546.5,533.8C547.5,532.9 552,532.4 554,533C556,533.6 558.5,536.4 558.5,537.5C558.5,538.6 555.8,539.7 554,539.8C552.2,539.9 549.2,539.3 548,538.3C546.8,537.3 545.5,534.7 546.5,533.8Z" fill="#DFC38F"/>
<path d="M563,534.5C564.2,534 569.8,535.1 572,536C574.2,536.9 576.5,538.9 576.5,539.8C576.5,540.7 574,541.4 572,541.3C570,541.2 566,540.1 564.5,539C563,537.9 561.8,535 563,534.5Z" fill="#DFC38F"/>
<path d="M573.5,539C575.8,537.2 584.8,539.5 590,540.5C595.2,541.5 602,543 605,545C608,547 608.5,550.5 608,552.5C607.5,554.5 605.5,556.2 602,557C598.5,557.8 591.2,558 587,557C582.8,556 578.8,554 576.5,551C574.2,548 571.2,540.8 573.5,539Z" fill="#F0E2B8"/>
<path d="M575,542C576.2,541 583,542.8 587,543.5C591,544.2 596,545.2 599,546.5C602,547.8 604.5,549.6 605,551C605.5,552.4 604.8,554.3 602,554.8C599.2,555.3 592.2,554.9 588.5,554C584.8,553.1 581.8,551.5 579.5,549.5C577.2,547.5 573.8,543 575,542Z" fill="#DFC38F"/>
<path d="M620,514C621.2,512.3 625.5,512.3 628,513C630.5,513.7 634.7,516.2 635,518C635.3,519.8 632.3,523.2 630,524C627.7,524.8 622.7,524.7 621,523C619.3,521.3 618.8,515.7 620,514Z" fill="#F0E2B8"/>
<path d="M594,503C595.3,500.5 602.3,501.3 606,502C609.7,502.7 614,504.7 616,507C618,509.3 619,513.7 618,516C617,518.3 613.3,520.8 610,521C606.7,521.2 600.7,520 598,517C595.3,514 592.7,505.5 594,503Z" fill="#FBF4E1"/>
<path d="M555,460C556.2,459.2 560,458.7 562,459C564,459.3 567.2,460.8 567,462C566.8,463.2 563,465.7 561,466C559,466.3 556,465 555,464C554,463 553.8,460.8 555,460Z" fill="#FBF4E1"/>
<path d="M555,505.8C555.6,504.9 558.1,505 559.2,505.4C560.3,505.8 561.6,507.2 561.7,508.3C561.8,509.4 561,511.3 560,511.7C559,512.1 556.6,511.8 555.8,510.8C555,509.8 554.4,506.7 555,505.8Z" fill="#FBF4E1"/>
<path d="M536.7,482.5C536.8,481.1 538.8,481 540,481.7C541.2,482.4 543.4,484.8 544.2,486.7C545,488.6 545.1,491.6 545,493.3C544.9,495 544,496.3 543.3,496.7C542.6,497.1 541.5,496.9 540.8,495.8C540.1,494.7 539.9,492.2 539.2,490C538.5,487.8 536.6,483.9 536.7,482.5Z" fill="#FBF4E1"/>
<path d="M569.2,497.5C570,496.5 573.6,496.9 575,497.5C576.4,498.1 577.5,499.7 577.5,500.8C577.5,501.9 576.2,503.8 575,504.2C573.8,504.6 571,504.4 570,503.3C569,502.2 568.4,498.5 569.2,497.5Z" fill="#FBF4E1"/>
<path d="M549.5,521C551,519.8 557.5,517.8 560,518C562.5,518.2 564.2,521.1 564.5,522.5C564.8,523.9 563.8,525.8 561.5,526.3C559.2,526.8 553,526.4 551,525.5C549,524.6 548,522.2 549.5,521Z" fill="#FBF4E1"/>
<path d="M476,537.5C477,536.2 481.8,536.2 483.5,536.8C485.2,537.4 486.8,539.9 486.5,541.3C486.2,542.7 483.5,544.5 482,545C480.5,545.5 478.5,545.5 477.5,544.3C476.5,543 475,538.8 476,537.5Z" fill="#FBF4E1"/>
<path d="M1061.5,694.7C1062.4,693.8 1066.1,694.7 1067.5,696.4C1068.9,698.1 1069.9,702.8 1070.1,705.1C1070.2,707.4 1069.3,709.7 1068.4,710.3C1067.5,710.9 1065.9,710 1064.9,708.5C1063.9,707 1062.9,703.9 1062.3,701.6C1061.7,699.3 1060.6,695.6 1061.5,694.7Z" fill="#C89A62"/>
<path d="M578,884C579.3,882 584.3,881.8 588,882C591.7,882.2 597.7,883.2 600,885C602.3,886.8 603.7,891.2 602,893C600.3,894.8 593.7,895.8 590,896C586.3,896.2 582,896 580,894C578,892 576.7,886 578,884Z" fill="#A45A3E"/>
<path d="M652,888C653.3,885.5 658,885.8 660,887C662,888.2 664,892.5 664,895C664,897.5 662,900.8 660,902C658,903.2 653.3,904.3 652,902C650.7,899.7 650.7,890.5 652,888Z" fill="#A45A3E"/>
</g>
<defs><mask id="lm"><rect x="0" y="0" width="1200" height="927" fill="#fff"/><rect x="158.5" y="200.5" width="43" height="20" fill="#000"/><rect x="482" y="147.5" width="43" height="20" fill="#000"/><rect x="179.5" y="288" width="43" height="20" fill="#000"/><rect x="465" y="219" width="43" height="20" fill="#000"/><rect x="776.5" y="153.5" width="43" height="20" fill="#000"/><rect x="240" y="322" width="43" height="20" fill="#000"/><rect x="507" y="274" width="43" height="20" fill="#000"/><rect x="906" y="282" width="43" height="20" fill="#000"/><rect x="272" y="372.5" width="43" height="20" fill="#000"/><rect x="618.5" y="329" width="43" height="20" fill="#000"/><rect x="916" y="370" width="43" height="20" fill="#000"/><rect x="96" y="471" width="43" height="20" fill="#000"/><rect x="440" y="416" width="43" height="20" fill="#000"/><rect x="610.5" y="485" width="43" height="20" fill="#000"/><rect x="892.5" y="468.5" width="43" height="20" fill="#000"/><rect x="220" y="528" width="43" height="20" fill="#000"/><rect x="601" y="545" width="43" height="20" fill="#000"/><rect x="897" y="559" width="43" height="20" fill="#000"/><rect x="123.5" y="609" width="43" height="20" fill="#000"/><rect x="422" y="588" width="43" height="20" fill="#000"/><rect x="708" y="590" width="43" height="20" fill="#000"/><rect x="450" y="622.5" width="43" height="20" fill="#000"/><rect x="893" y="715.5" width="43" height="20" fill="#000"/><rect x="486" y="687.5" width="43" height="20" fill="#000"/><rect x="357" y="743" width="43" height="20" fill="#000"/><rect x="397" y="795" width="43" height="20" fill="#000"/></mask></defs>
<g clip-path="url(#mc)"><g mask="url(#lm)" fill="none" stroke="#A3A3A3" stroke-width="1.4" stroke-linejoin="round">
<path d="M62.5,101C63.8,102.8 66.2,108.9 70,112C73.8,115.1 80.5,117 85,119.5C89.5,122 94,124.9 97,127C100,129.1 101,130.6 103,132.2C105,133.8 107,135.7 109,136.7C111,137.7 112.8,138.1 115,138.2C117.2,138.3 120.5,138.4 122.5,137.5C124.5,136.6 125.8,135 127,133C128.2,131 128.5,128.8 130,125.5C131.5,122.2 133.8,117.6 136,113.5C138.2,109.4 142.2,103.1 143.5,101"/>
<path d="M34,225C35.8,224.9 40.7,224.9 45,224.3C49.3,223.7 54.2,222.3 60,221.2C65.8,220.1 72.5,218.8 80,217.5C87.5,216.2 96.7,214.8 105,213.5C113.3,212.2 121.7,210.8 130,210C138.3,209.2 146.7,209.2 155,208.5C163.3,207.8 172.5,206.5 180,205.5C187.5,204.5 193.8,203.7 200,202.5C206.2,201.3 212.2,199.5 217.5,198.5C222.8,197.5 228.2,197 232,196.5C235.8,196 237,196.2 240,195.5C243,194.8 246.7,193.9 250,192C253.3,190.1 257.3,186.3 260,184C262.7,181.7 264,179.8 266,178C268,176.2 269.7,174.2 272,173C274.3,171.8 277.3,171 280,171C282.7,171 286,172.2 288,173C290,173.8 290,175 292,176C294,177 297,178.7 300,179C303,179.3 306.7,179 310,178C313.3,177 317,174.5 320,173C323,171.5 325.3,169.2 328,169C330.7,168.8 333.3,170.2 336,172C338.7,173.8 341.3,177.8 344,180C346.7,182.2 349.3,184.3 352,185C354.7,185.7 357,184.8 360,184C363,183.2 366.7,181 370,180C373.3,179 376.7,178 380,178C383.3,178 386.7,179.7 390,180C393.3,180.3 396.7,181.7 400,180C403.3,178.3 406.7,173.3 410,170C413.3,166.7 416.7,162.2 420,160C423.3,157.8 426.7,157 430,157C433.3,157 437.3,159.3 440,160C442.7,160.7 443.3,162 446,161C448.7,160 452,156.7 456,154C460,151.3 466,146 470,145C474,144 475,146.7 480,148C485,149.3 491.7,151.8 500,153C508.3,154.2 520.8,154.5 530,155C539.2,155.5 548.3,156 555,156C561.7,156 564.7,156.3 570,155C575.3,153.7 581.5,151.3 587,148C592.5,144.7 597.5,137.7 603,135C608.5,132.3 614.3,132.8 620,132C625.7,131.2 631.5,130.8 637,130C642.5,129.2 647.5,129 653,127C658.5,125 664.3,121.2 670,118C675.7,114.8 682,110.8 687,108C692,105.2 697.8,102.2 700,101"/>
<path d="M34,317C35.2,316.5 38.2,314.8 41,314C43.8,313.2 45.8,312.7 51,312C56.2,311.3 65.2,310.8 72,310C78.8,309.2 86.8,308.2 92,307C97.2,305.8 99.5,304.1 103,303C106.5,301.9 109.5,301.2 113,300.6C116.5,300 120.5,299.6 124,299.6C127.5,299.6 130.5,300.2 134,300.6C137.5,301 141.5,301 145,301.7C148.5,302.4 152.7,304.8 155,304.8C157.3,304.8 159.7,303.7 159,301.7C158.3,299.7 151,294.8 151,293C151,291.2 156.7,291.5 159,291C161.3,290.5 162.8,288.9 165,290C167.2,291.1 169.5,296 172,297.5C174.5,299 176.5,299.6 180,299C183.5,298.4 188.5,296.5 193,294C197.5,291.5 203,286.3 207,284C211,281.7 211.8,280.8 217,280C222.2,279.2 231,279.6 238,279C245,278.4 252,277.3 259,276.7C266,276.1 273.7,277.2 280,275.6C286.3,274 292,269.3 297,267C302,264.7 306.2,263.8 310,262C313.8,260.2 315,257.7 320,256C325,254.3 333.3,252.2 340,252C346.7,251.8 352.2,255.7 360,255C367.8,254.3 379.2,249.3 387,248C394.8,246.7 398.7,248 407,247C415.3,246 429.3,243.7 437,242C444.7,240.3 448,238.7 453,237C458,235.3 461.3,233.7 467,232C472.7,230.3 479.8,228.5 487,227C494.2,225.5 504.5,224.2 510,223C515.5,221.8 515.5,220 520,220C524.5,220 531.5,222.5 537,223C542.5,223.5 547.5,223.8 553,223C558.5,222.2 564.3,219.7 570,218C575.7,216.3 581.5,215.2 587,213C592.5,210.8 597.5,208 603,205C608.5,202 614.3,198.3 620,195C625.7,191.7 631.5,187.8 637,185C642.5,182.2 647.5,180.2 653,178C658.5,175.8 664.3,174.2 670,172C675.7,169.8 682,167.5 687,165C692,162.5 693.5,158.8 700,157C706.5,155.2 717.5,155.2 726,154C734.5,152.8 743.2,149.8 751,150C758.8,150.2 765.2,154.5 773,155.5C780.8,156.5 790.7,156.2 798,156C805.3,155.8 808.8,154.1 817,154C825.2,153.9 839,154.3 847,155.5C855,156.7 859,158.9 865,161C871,163.1 877.5,165 883,168C888.5,171 891.8,176.7 898,179C904.2,181.3 913.3,182 920,182C926.7,182 931.8,180.7 938,179C944.2,177.3 950.8,174.3 957,172C963.2,169.7 969,167.8 975,165C981,162.2 986.8,158 993,155.5C999.2,153 1007,153.4 1012,150C1017,146.6 1019.3,140 1023,135C1026.7,130 1030.3,122.1 1034,120C1037.7,117.9 1041.3,120.2 1045,122.5C1048.7,124.8 1052.3,131.1 1056,133.5C1059.7,135.9 1062.2,136.4 1067,137C1071.8,137.6 1079,137.3 1085,137C1091,136.7 1096.8,137.2 1103,135C1109.2,132.8 1117,127.7 1122,124C1127,120.3 1131.2,114.8 1133,113"/>
<path d="M34,381C36.8,380.8 44.7,380 51,380C57.3,380 65.8,380.3 72,381C78.2,381.7 84.6,383.2 88,384C91.4,384.8 90,386.7 92.5,386C95,385.3 100.2,382.7 103,380C105.8,377.3 106.6,372.7 109,370C111.4,367.3 114,364.5 117.5,364C121,363.5 126.6,366.2 130,367C133.4,367.8 133.8,369.7 138,369C142.2,368.3 148.7,364.7 155,363C161.3,361.3 169,360.3 176,359C183,357.7 190.1,356.2 197,355C203.9,353.8 210.7,354 217.5,352C224.3,350 233.8,345.2 238,343C242.2,340.8 242.8,340.8 242.5,339C242.2,337.2 236.4,334 236,332C235.6,330 235.7,327.2 240,327C244.3,326.8 254.8,330.5 262,331C269.2,331.5 277.2,330.7 283,330C288.8,329.3 290.8,328.3 297,327C303.2,325.7 310.7,323.7 320,322C329.3,320.3 341.8,319.3 353,317C364.2,314.7 375.8,310.5 387,308C398.2,305.5 409,304.2 420,302C431,299.8 444.2,297 453,295C461.8,293 464.7,291.3 473,290C481.3,288.7 493.8,288.3 503,287C512.2,285.7 519.7,283.5 528,282C536.3,280.5 546,279.7 553,278C560,276.3 564.3,274.2 570,272C575.7,269.8 581.5,267.3 587,265C592.5,262.7 597.5,260.2 603,258C608.5,255.8 614.3,253.8 620,252C625.7,250.2 631.5,248.7 637,247C642.5,245.3 647.5,244 653,242C658.5,240 664.3,236.5 670,235C675.7,233.5 682.5,232.2 687,233C691.5,233.8 693.8,238.2 697,240C700.2,241.8 703.5,244 706,244C708.5,244 709.3,243.2 712,240C714.7,236.8 718.5,227.8 722,225C725.5,222.2 728.2,222.7 733,223C737.8,223.3 745.2,225.8 751,227C756.8,228.2 763.7,228.2 768,230C772.3,231.8 773.7,233.7 777,238C780.3,242.3 784.3,251.2 788,256C791.7,260.8 793.5,265.2 799,267C804.5,268.8 813,267.2 821,267C829,266.8 839.7,264.2 847,265.5C854.3,266.8 859,272.2 865,275C871,277.8 876.3,279.7 883,282C889.7,284.3 897.7,287.7 905,289C912.3,290.3 919.7,290.5 927,290C934.3,289.5 942.8,288 949,286C955.2,284 959,279.3 964,278C969,276.7 974.2,278 979,278C983.8,278 987.5,278.2 993,278C998.5,277.8 1005.8,276.2 1012,276.5C1018.2,276.8 1024,279.8 1030,280C1036,280.2 1041.8,279.5 1048,278C1054.2,276.5 1060.8,273.7 1067,271C1073.2,268.3 1079,265 1085,262C1091,259 1098.2,255 1103,253C1107.8,251 1109,250.3 1114,250C1119,249.7 1129.8,250.8 1133,251"/>
<path d="M34,421.7C38.8,422.5 52.5,425.6 63,426.7C73.5,427.8 85.8,428 97,428C108.2,428 119,427.5 130,426.7C141,425.9 153.5,424.1 163,423C172.5,421.9 178.7,423.3 187,420C195.3,416.7 205.8,406.8 213,403C220.2,399.2 224.3,398.7 230,397C235.7,395.3 241.5,393.7 247,393C252.5,392.3 258.7,393.5 263,393C267.3,392.5 268,391.3 273,390C278,388.7 285.7,386.7 293,385C300.3,383.3 308,382 317,380C326,378 338.2,375 347,373C355.8,371 357.8,369 370,368C382.2,367 403.3,366.3 420,367C436.7,367.7 453.3,371.8 470,372C486.7,372.2 503.3,370.3 520,368C536.7,365.7 556.2,361.3 570,358C583.8,354.7 594.7,350.5 603,348C611.3,345.5 613.8,344.2 620,343C626.2,341.8 632.8,341 640,341C647.2,341 655.2,342.3 663,343C670.8,343.7 680.8,344.5 687,345C693.2,345.5 693.5,345.2 700,346C706.5,346.8 719.8,347.8 726,350C732.2,352.2 732.2,355 737,359C741.8,363 749,369.7 755,374C761,378.3 766.8,384 773,385C779.2,386 785.8,380.8 792,380C798.2,379.2 800.8,379.7 810,380C819.2,380.3 834.8,381.2 847,382C859.2,382.8 872,384.5 883,385C894,385.5 904,385.3 913,385C922,384.7 928.5,382.8 937,383C945.5,383.2 953.3,384.7 964,386C974.7,387.3 991.8,389.7 1001,391C1010.2,392.3 1013,394.5 1019,394C1025,393.5 1030.8,389.8 1037,388C1043.2,386.2 1049.8,383.8 1056,383C1062.2,382.2 1068.5,382.2 1074,383C1079.5,383.8 1084.2,385.7 1089,388C1093.8,390.3 1098.2,395.7 1103,397C1107.8,398.3 1113,396.8 1118,396C1123,395.2 1130.5,392.7 1133,392"/>
<path d="M34,493.7C38.8,493.9 55,494.6 63,495C71,495.4 76,496.6 81.7,496.3C87.4,496 91.1,494.6 97,493C102.9,491.4 109.2,488.6 117,487C124.8,485.4 136.7,484.9 143.7,483.4C150.7,481.9 152.3,478.2 159.2,478.2C166.1,478.2 176.4,483 185,483.4C193.6,483.8 202.3,482.5 210.9,480.8C219.5,479.1 228.1,475.6 236.7,473C245.3,470.4 254,467.9 262.6,465.3C271.2,462.7 281.5,459.2 288.4,457.5C295.3,455.8 300.6,455 304,455C307.4,455 305.6,455.8 309,457.5C312.4,459.2 317.7,463.6 324.6,465.3C331.5,467 340.9,468.3 350.4,467.9C359.9,467.5 372.8,464.4 381.4,462.7C390,461 396.8,459.2 402,457.5C407.2,455.8 407.2,455 412.4,452.4C417.6,449.8 426.7,445.4 433,442C439.3,438.6 444.5,434.8 450,432C455.5,429.2 460.5,427 466,425C471.5,423 478.2,421 483,420C487.8,419 488.7,419.3 495,418.8C501.3,418.3 513.5,417 521,417.2C528.5,417.4 534,418.1 540,420C546,421.9 551.2,426.5 556.7,428.3C562.2,430.1 567.8,429.8 573.3,430.8C578.8,431.8 584.4,432.9 590,434.2C595.6,435.4 602,436.9 606.7,438.3C611.4,439.7 613.9,439.7 618.3,442.5C622.7,445.3 628.6,451.8 633.3,455C638,458.2 643.4,459.2 646.7,461.7C650,464.2 652.2,467.2 653.3,470C654.4,472.8 654.1,477.8 653.3,478.3C652.5,478.9 651.9,474.5 648.3,473.3C644.7,472.1 637.2,471.4 631.7,471.3C626.2,471.2 619.5,471.3 615,472.5C610.5,473.7 605.8,476.2 605,478.3C604.2,480.4 607.8,483.1 610,485C612.2,486.9 616.6,488.1 618.3,490C620,491.9 619.2,494.5 620,496.7C620.8,498.9 621.1,501.4 623.3,503.3C625.5,505.2 629.4,507.7 633.3,508.3C637.2,508.9 643.4,505.3 646.7,506.7C650,508.1 651.6,517.3 653.3,516.7C655,516.1 655,506.6 656.7,503.3C658.4,500 657.8,497.8 663.3,496.7C668.8,495.6 684.4,497.8 690,496.7C695.6,495.6 694.5,492.8 696.7,490C698.9,487.2 700.2,482.8 703.3,480C706.3,477.2 708.9,475 715,473.3C721.1,471.6 729.2,471.6 740,470C750.8,468.4 768.3,464.5 780,464C791.7,463.5 800,466 810,467C820,468 830,469 840,470C850,471 861.5,472 870,473C878.5,474 883.7,475.3 891,476C898.3,476.7 906.5,477 914,477C921.5,477 928.3,476.2 936,476C943.7,475.8 952,476.8 960,476C968,475.2 978,471 984,471.5C990,472 992.5,476.8 996,479C999.5,481.2 1001,483.8 1005,485C1009,486.2 1012.5,485.8 1020,486.5C1027.5,487.2 1040,489 1050,489.5C1060,490 1070,490 1080,489.5C1090,489 1101.2,487.2 1110,486.5C1118.8,485.8 1129.2,485.2 1133,485"/>
<path d="M34,575C38.8,574.7 52.5,573.8 63,573C73.5,572.2 85.8,570.8 97,570C108.2,569.2 119,570.8 130,568C141,565.2 151.8,557.2 163,553C174.2,548.8 188,545.5 197,543C206,540.5 209.7,538.9 217,538C224.3,537.1 233.5,538.2 241,537.5C248.5,536.8 256.3,535.2 262,534C267.7,532.8 269.5,531.2 275,530.5C280.5,529.8 289.2,529.9 295,529.5C300.8,529.1 306.3,528.8 310,528C313.7,527.2 314.5,526 317,525C319.5,524 322,522.5 325,522C328,521.5 330.8,521.7 335,522C339.2,522.3 346.9,523.2 350,524C353.1,524.8 353.2,525.9 353.5,527C353.8,528.1 353.4,529.5 352,530.5C350.6,531.5 347,531.8 345,533C343,534.2 340.5,536.3 340,538C339.5,539.7 340.3,541.5 342,543C343.7,544.5 347.3,545.5 350,547C352.7,548.5 356,550.2 358,552C360,553.8 360.8,556.5 362,558C363.2,559.5 364,561.5 365,561C366,560.5 367.5,557.7 368,555C368.5,552.3 367.7,547.8 368,545C368.3,542.2 368.7,539.8 370,538C371.3,536.2 372.7,535.5 376,534C379.3,532.5 383.8,530.8 390,529C396.2,527.2 406.3,524.8 413,523C419.7,521.2 424.9,517.5 430,518C435.1,518.5 440.4,523.6 443.8,526C447.2,528.4 448.3,530.2 450.3,532.5C452.3,534.8 452.7,537.4 456,540C459.3,542.6 465.2,547 470,548C474.8,549 478.8,546.2 485,546C491.2,545.8 499.8,546.3 507,547C514.2,547.7 520.8,550 528,550C535.2,550 543,547 550,547C557,547 565.3,548.3 570,550C574.7,551.7 575.5,555 578,557C580.5,559 582.2,561.2 585,562C587.8,562.8 591.8,563 595,562C598.2,561 599.5,557.2 604,556C608.5,554.8 615.8,555.2 622,555C628.2,554.8 633.5,555.8 641,555C648.5,554.2 657.2,552 667,550C676.8,548 689,545.2 700,543C711,540.8 724.7,538.7 733,537C741.3,535.3 744.3,533.8 750,533C755.7,532.2 762,532 767,532C772,532 776.8,531.5 780,533C783.2,534.5 784.5,538.5 786,541C787.5,543.5 788.2,545.5 789,548C789.8,550.5 789.2,554.1 791,556C792.8,557.9 796,558.8 800,559.5C804,560.2 810,559.8 815,560C820,560.2 825.8,560.5 830,561C834.2,561.5 837.3,562 840,563C842.7,564 843.5,566.2 846,567C848.5,567.8 851.8,568.2 855,568C858.2,567.8 861.7,566.8 865,566C868.3,565.2 871.7,564 875,563C878.3,562 881.7,560.7 885,560C888.3,559.3 891.7,558.5 895,559C898.3,559.5 901.2,561.8 905,563C908.8,564.2 911.8,565.8 918,566C924.2,566.2 935,564.5 942,564.5C949,564.5 954.5,565.2 960,566C965.5,566.8 970,568.2 975,569C980,569.8 985,570.5 990,570.5C995,570.5 1000,569.2 1005,569C1010,568.8 1015,568.8 1020,569C1025,569.2 1030,569.5 1035,570.5C1040,571.5 1045,573.2 1050,575C1055,576.8 1060,579 1065,581C1070,583 1075,585.2 1080,587C1085,588.8 1090,590.5 1095,591.5C1100,592.5 1103.7,592.8 1110,593C1116.3,593.2 1129.2,593 1133,593"/>
<path d="M34,653C38.8,653.3 52.5,656.3 63,655C73.5,653.7 87.5,647.8 97,645C106.5,642.2 114.5,640.5 120,638C125.5,635.5 125.3,632.2 130,630C134.7,627.8 141.3,626.2 148,625C154.7,623.8 163,623 170,623C177,623 182.8,625 190,625C197.2,625 206.3,623.8 213,623C219.7,622.2 221.7,620.8 230,620C238.3,619.2 254.7,618.5 263,618C271.3,617.5 274.3,618 280,617C285.7,616 291.5,614 297,612C302.5,610 307.5,607 313,605C318.5,603 323.8,601.3 330,600C336.2,598.7 341.7,597.5 350,597C358.3,596.5 371.2,597.3 380,597C388.8,596.7 395.8,595.3 403,595C410.2,594.7 416.2,595.5 423,595C429.8,594.5 436.7,592.8 444,592C451.3,591.2 460.5,590.7 467,590C473.5,589.3 477.5,588.3 483,588C488.5,587.7 491.7,587.7 500,588C508.3,588.3 521.8,589.3 533,590C544.2,590.7 555.8,590.8 567,592C578.2,593.2 589,595.2 600,597C611,598.8 621.8,601.2 633,603C644.2,604.8 655.8,607.7 667,608C678.2,608.3 689.5,605.2 700,605C710.5,604.8 718.8,606.2 730,607C741.2,607.8 758.7,609.3 767,610C775.3,610.7 772.8,609.8 780,611C787.2,612.2 803.7,615.5 810,617C816.3,618.5 812.5,618.5 818,620C823.5,621.5 833.7,623.9 843,626C852.3,628.1 863.7,630.3 874,632.5C884.3,634.7 894.7,636.6 905,639C915.3,641.4 925.5,644.1 936,646.6C946.5,649.1 957.5,651.4 968,654C978.5,656.6 991.2,660.9 999,662C1006.8,663.1 1009.8,662.2 1015,660.7C1020.2,659.2 1024.8,654.8 1030,653C1035.2,651.2 1041.8,648.2 1046,650C1050.2,651.8 1051.3,659.8 1055,664C1058.7,668.2 1061.7,673.7 1068,675C1074.3,676.3 1086.3,673.3 1093,671.6C1099.7,669.9 1102.8,665.8 1108,665C1113.2,664.2 1119.8,666.4 1124,667C1128.2,667.6 1131.5,668.2 1133,668.5"/>
<path d="M34,728C38.8,726.7 52.5,722.5 63,720C73.5,717.5 85.8,715.5 97,713C108.2,710.5 119,707.7 130,705C141,702.3 151.8,700 163,697C174.2,694 188.7,689.5 197,687C205.3,684.5 204.7,683.5 213,682C221.3,680.5 235.8,680 247,678C258.2,676 269,672.5 280,670C291,667.5 304.7,664.7 313,663C321.3,661.3 324.3,661.7 330,660C335.7,658.3 341.5,654.3 347,653C352.5,651.7 354.7,652.5 363,652C371.3,651.5 388.3,651 397,650C405.7,649 409,647.2 415,646C421,644.8 426.7,644.3 433,643C439.3,641.7 446.5,639.2 453,638C459.5,636.8 464.2,636.2 472,636C479.8,635.8 489.8,636.8 500,637C510.2,637.2 524.7,636.8 533,637C541.3,637.2 544.3,637.5 550,638C555.7,638.5 561.5,638.5 567,640C572.5,641.5 577.5,644.2 583,647C588.5,649.8 593.8,654 600,657C606.2,660 611.2,662.5 620,665C628.8,667.5 641.8,670 653,672C664.2,674 675.8,676 687,677C698.2,678 709,677.5 720,678C731,678.5 744.7,678.8 753,680C761.3,681.2 764.3,682.8 770,685C775.7,687.2 781.5,690.2 787,693C792.5,695.8 797.5,699.5 803,702C808.5,704.5 813.3,705.5 820,708C826.7,710.5 834,714 843,717C852,720 863.8,723.8 874,726C884.2,728.2 894.2,728.4 904,730C913.8,731.6 925,733.7 933,735.7C941,737.7 945.2,740.5 952,742C958.8,743.5 967.2,745.5 974,745C980.8,744.5 986.2,740.3 993,739C999.8,737.7 1006.2,737.3 1015,737C1023.8,736.7 1037.2,736.7 1046,737C1054.8,737.3 1062.8,739.7 1068,739C1073.2,738.3 1072.8,732.5 1077,733C1081.2,733.5 1087.8,740.8 1093,742C1098.2,743.2 1101.3,740.5 1108,740C1114.7,739.5 1128.8,739.2 1133,739"/>
<path d="M34,792C38.8,790.5 52.5,786.2 63,783C73.5,779.8 85.8,775.7 97,773C108.2,770.3 119,770.3 130,767C141,763.7 151.8,757.2 163,753C174.2,748.8 185.8,745 197,742C208.2,739 219,737.5 230,735C241,732.5 251.8,728.7 263,727C274.2,725.3 288.7,725.7 297,725C305.3,724.3 307.5,724.7 313,723C318.5,721.3 321.7,718.5 330,715C338.3,711.5 351.8,705.3 363,702C374.2,698.7 387.5,696.5 397,695C406.5,693.5 413.3,693 420,693C426.7,693 431.5,695.2 437,695C442.5,694.8 447.5,692.8 453,692C458.5,691.2 464.3,689.8 470,690C475.7,690.2 480.7,691.5 487,693C493.3,694.5 500.8,697 508,699C515.2,701 524.2,703.3 530,705C535.8,706.7 536.3,708.2 543,709C549.7,709.8 562.7,709 570,710C577.3,711 581.5,713.7 587,715C592.5,716.3 597.5,716.3 603,718C608.5,719.7 614.3,722.7 620,725C625.7,727.3 631.5,729.2 637,732C642.5,734.8 647.5,739 653,742C658.5,745 664.3,747.3 670,750C675.7,752.7 681.5,755.8 687,758C692.5,760.2 697.5,761.5 703,763C708.5,764.5 714.3,765 720,767C725.7,769 731.5,771.5 737,775C742.5,778.5 747.5,784.3 753,788C758.5,791.7 764.3,794.5 770,797C775.7,799.5 780.2,800.2 787,803C793.8,805.8 801.7,810.7 811,814C820.3,817.3 832.5,819.8 843,823C853.5,826.2 863.7,830.7 874,833C884.3,835.3 894.7,835.5 905,837C915.3,838.5 925.5,841.4 936,842C946.5,842.6 957.5,840.2 968,840.5C978.5,840.8 988.7,843.2 999,843.6C1009.3,844 1022.2,844 1030,842.7C1037.8,841.4 1040.8,838.8 1046,836C1051.2,833.2 1056.8,828.7 1061,826C1065.2,823.3 1067.8,820.5 1071,820C1074.2,819.5 1076.3,822.7 1080,823C1083.7,823.3 1084.2,822 1093,822C1101.8,822 1126.3,822.8 1133,823"/>
<path d="M34,862C38.8,861.3 55.3,859.5 63,858C70.7,856.5 74.3,854.8 80,853C85.7,851.2 88.7,850.3 97,847C105.3,843.7 119,837.2 130,833C141,828.8 151.8,826.7 163,822C174.2,817.3 185.8,809.3 197,805C208.2,800.7 221.7,798.8 230,796C238.3,793.2 241.2,790.5 247,788C252.8,785.5 256.7,783.8 265,781C273.3,778.2 286.2,773.8 297,771C307.8,768.2 320,766 330,764C340,762 349,760.2 357,759C365,757.8 370.8,757.5 378,757C385.2,756.5 393,756.3 400,756C407,755.7 412.2,755 420,755C427.8,755 435.8,755.5 447,756C458.2,756.5 474.8,756.8 487,758C499.2,759.2 509,761.3 520,763C531,764.7 543.8,766.2 553,768C562.2,769.8 568.8,771.3 575,774C581.2,776.7 585,780.8 590,784C595,787.2 600,789.8 605,793C610,796.2 614.7,799.7 620,803C625.3,806.3 631.5,809.2 637,813C642.5,816.8 647.5,821.7 653,826C658.5,830.3 664.3,834.7 670,839C675.7,843.3 681.5,847.5 687,852C692.5,856.5 697.5,861.8 703,866C708.5,870.2 714.3,874 720,877C725.7,880 731.5,881.2 737,884C742.5,886.8 749.7,891 753,894C756.3,897 756.3,900.7 757,902"/>
<path d="M140,902C143.8,900 153.5,894.8 163,890C172.5,885.2 185.8,878.5 197,873C208.2,867.5 219,863 230,857C241,851 254.7,842.7 263,837C271.3,831.3 274.3,827.5 280,823C285.7,818.5 291.5,812.8 297,810C302.5,807.2 304.7,807 313,806C321.3,805 335.8,804.5 347,804C358.2,803.5 368.2,802.8 380,803C391.8,803.2 407.7,803.8 418,805C428.3,806.2 433.2,807.5 442,810C450.8,812.5 462.7,817.9 471,820C479.3,822.1 485.2,822.1 492,822.5C498.8,822.9 505.2,821.4 512,822.5C518.8,823.6 526,826.9 533,829C540,831.1 547,832.7 554,835C561,837.3 568,839.5 575,843C582,846.5 588.5,851.5 596,856C603.5,860.5 613.7,866 620,870C626.3,874 629.3,877.8 634,880C638.7,882.2 644.8,882 648,883C651.2,884 652.5,884.2 653,886C653.5,887.8 651.2,891.3 651,894C650.8,896.7 651.8,900.7 652,902"/>
<path d="M257,902C257.9,901.3 258.7,900.5 262.5,898C266.3,895.5 274.2,891.2 280,887C285.8,882.8 291.5,877.5 297,873C302.5,868.5 307.5,863.3 313,860C318.5,856.7 321.7,854.3 330,853C338.3,851.7 351.8,851.7 363,852C374.2,852.3 389.5,854 397,855C404.5,856 402.5,856.7 408,858C413.5,859.3 423,861.7 430,863C437,864.3 443.2,864.8 450,866C456.8,867.2 464,867.5 471,870C478,872.5 485.2,877.8 492,881C498.8,884.2 506.5,886.6 512,889C517.5,891.4 522.2,893.3 525,895.5C527.8,897.7 528.3,900.9 529,902"/>
<path d="M377,902C378,901.3 379.8,899.5 383,898C386.2,896.5 390.3,893.9 396,893C401.7,892.1 409.3,891.8 417,892.5C424.7,893.2 436.5,895.9 442,897.5C447.5,899.1 448.7,901.2 450,902"/>
<path d="M33,281C34.2,279.2 38,281 40,281.5C42,282 44.5,282.9 45,284C45.5,285.1 44.2,286.8 43,288C41.8,289.2 39.7,290.2 38,291C36.3,291.8 33.8,294.2 33,292.5C32.2,290.8 31.8,282.8 33,281Z"/>
<path d="M159,305C159.7,304.1 163.2,303.8 165,304C166.8,304.2 169.5,305.1 170,306C170.5,306.9 169.5,308.9 168,309.5C166.5,310.1 162.5,310.2 161,309.5C159.5,308.8 158.3,305.9 159,305Z"/>
<path d="M187,313C187.8,313 189.2,315.7 190,317C190.8,318.3 193.3,320.3 192,321C190.7,321.7 183.2,321.7 182,321C180.8,320.3 184.2,318.3 185,317C185.8,315.7 186.2,313 187,313Z"/>
<path d="M183,327C184.6,327.2 187.2,328.7 188,330C188.8,331.3 188.8,333.8 188,335C187.2,336.2 184.7,337.7 183,337.5C181.3,337.3 178.8,335.4 178,334C177.2,332.6 177.7,330.2 178.5,329C179.3,327.8 181.4,326.8 183,327Z"/>
<path d="M205,332C205.9,331.8 207.5,333 208,334C208.5,335 208.7,337.2 208,338C207.3,338.8 204.9,339.5 204,339C203.1,338.5 202.3,336.2 202.5,335C202.7,333.8 204.1,332.2 205,332Z"/>
<path d="M322,442C323,440 328.2,437.7 332,436C335.8,434.3 340.3,432.5 345,432C349.7,431.5 355.5,432.2 360,433C364.5,433.8 368.7,435.3 372,437C375.3,438.7 380,441.3 380,443C380,444.7 376.2,446 372,447C367.8,448 360.3,448.8 355,449C349.7,449.2 344.8,448.2 340,448C335.2,447.8 329,449 326,448C323,447 321,444 322,442Z"/>
<path d="M383,415C383.7,412.2 388.8,408.8 392,408C395.2,407.2 399.8,408.5 402,410C404.2,411.5 403.3,416.3 405,417C406.7,417.7 409.2,414.8 412,414C414.8,413.2 418.2,412 422,412C425.8,412 430.3,412.3 435,414C439.7,415.7 445.8,419.3 450,422C454.2,424.7 457.7,427.5 460,430C462.3,432.5 465.7,435.2 464,437C462.3,438.8 455.3,440.8 450,441C444.7,441.2 437,439.5 432,438C427,436.5 424,433.2 420,432C416,430.8 411.7,431.7 408,431C404.3,430.3 401.3,429 398,428C394.7,427 390.5,427.2 388,425C385.5,422.8 382.3,417.8 383,415Z"/>
<path d="M300,543C300.2,541.2 300.3,539.3 302,538C303.7,536.7 307,535.6 310,535C313,534.4 317,534.2 320,534.5C323,534.8 326.2,535.8 328,537C329.8,538.2 330.8,540.2 331,542C331.2,543.8 330.3,546.3 329,548C327.7,549.7 325,551.3 323,552C321,552.7 319,551.8 317,552C315,552.2 312.8,552 311,553C309.2,554 307.3,557.7 306,558C304.7,558.3 303.8,556.5 303,555C302.2,553.5 301.5,551 301,549C300.5,547 299.8,544.8 300,543Z"/>
<path d="M283,542C283.2,540.8 284,539.4 285,539C286,538.6 288.2,538.8 289,539.5C289.8,540.2 289.8,541.8 289.5,543C289.2,544.2 288,546 287,546.5C286,547 284.2,546.8 283.5,546C282.8,545.2 282.8,543.2 283,542Z"/>
<path d="M338,549C338.3,547.8 339.5,546.7 341,546.5C342.5,546.3 345.3,547.1 347,548C348.7,548.9 350.7,550.7 351,552C351.3,553.3 350.3,555.2 349,556C347.7,556.8 344.7,556.8 343,556.5C341.3,556.2 339.8,555.2 339,554C338.2,552.8 337.7,550.2 338,549Z"/>
<path d="M293,547C293.7,546.5 296.2,547.2 297,548C297.8,548.8 298.2,551 298,552C297.8,553 296.8,554.2 296,554C295.2,553.8 293.5,552.2 293,551C292.5,549.8 292.3,547.5 293,547Z"/>
<path d="M793,532C796,531 804.7,530.7 810,531C815.3,531.3 820,532.8 825,534C830,535.2 836.3,536.7 840,538C843.7,539.3 845,542.2 847,542C849,541.8 850.3,538 852,537C853.7,536 855.7,535.7 857,536C858.3,536.3 859.8,537.5 860,539C860.2,540.5 859.2,542.7 858,545C856.8,547.3 855.2,551.2 853,553C850.8,554.8 848,555.3 845,556C842,556.7 838.3,556.8 835,557C831.7,557.2 830,557 825,557C820,557 810.3,557.3 805,557C799.7,556.7 795.3,557 793,555C790.7,553 791.2,548 791,545C790.8,542 791.7,539.2 792,537C792.3,534.8 790,533 793,532Z"/>
<path d="M802,542C803.1,541.2 805,540 808,540C811,540 815.8,541.3 820,542C824.2,542.7 830,543 833,544C836,545 838.5,547.2 838,548C837.5,548.8 833.8,548.7 830,549C826.2,549.3 819.2,550 815,550C810.8,550 807.2,549.8 805,549C802.8,548.2 802,546.2 801.5,545C801,543.8 800.9,542.8 802,542Z"/>
<path d="M496,452C497.5,450 501,449.3 505,449C509,448.7 515,449.3 520,450C525,450.7 531.5,451.3 535,453C538.5,454.7 540.7,457.8 541,460C541.3,462.2 539.3,464.8 537,466C534.7,467.2 530.7,467.2 527,467C523.3,466.8 518.7,465.5 515,465C511.3,464.5 508.2,464.7 505,464C501.8,463.3 497.5,463 496,461C494.5,459 494.5,454 496,452Z"/>
<path d="M540.8,466.7C541.8,465 545.3,465.8 547.5,466.3C549.7,466.9 553,468.6 554.2,470C555.5,471.4 555.4,473.6 555,475C554.6,476.4 553.4,477.5 551.7,478.3C550,479.1 546.7,480.3 545,480C543.3,479.7 542.4,478.9 541.7,476.7C541,474.5 539.8,468.4 540.8,466.7Z"/>
<path d="M561.7,475C562.6,473.9 564.6,473.3 566.7,473.3C568.8,473.3 572.3,474.3 574.2,475C576.1,475.7 576.2,477 578.3,477.5C580.4,478 583.9,477.2 586.7,477.9C589.5,478.6 592.8,480.5 595,481.7C597.2,482.9 598.8,483.6 600,485C601.2,486.4 601.1,489.7 602.5,490C603.9,490.3 606.6,485.4 608.3,486.7C610,487.9 613.3,495.4 612.5,497.5C611.7,499.6 606.2,499.1 603.3,499.2C600.4,499.3 597.8,498.7 595,498.3C592.2,497.9 589.2,497.5 586.7,496.7C584.2,495.9 581.7,494.4 580,493.3C578.3,492.2 578.4,490.7 576.7,490C575,489.3 572.2,490 570,489.2C567.8,488.4 564.8,486.5 563.3,485C561.8,483.5 561.6,481.7 561.3,480C561,478.3 560.8,476.1 561.7,475Z"/>
<path d="M546.7,489.2C547.4,487.9 550,487.9 551.7,488.3C553.4,488.7 555.3,490.6 556.7,491.7C558.1,492.8 559.2,493.8 560,495C560.8,496.2 562.1,498.4 561.7,499.2C561.3,500 559.2,500 557.5,500C555.8,500 553.4,499.9 551.7,499.2C550,498.5 548.3,497.5 547.5,495.8C546.7,494.1 546,490.4 546.7,489.2Z"/>
<path d="M531.7,497.5C532.1,496.1 534.8,496 536.7,496.7C538.6,497.4 541.2,500 543.3,501.7C545.4,503.4 547.8,505 549.2,506.7C550.6,508.4 552,510.7 551.7,511.7C551.4,512.7 549.3,512.8 547.5,512.5C545.7,512.2 543,511.2 540.8,510C538.6,508.8 535.7,507.1 534.2,505C532.7,502.9 531.3,498.9 531.7,497.5Z"/>
<path d="M479,497C479.2,494.8 486.5,491 490,490C493.5,489 497.2,489.7 500,491C502.8,492.3 507,496 507,498C507,500 503,502.2 500,503C497,503.8 492.5,504 489,503C485.5,502 478.8,499.2 479,497Z"/>
<path d="M565,513.3C566.1,511.8 568.8,509.9 571.7,509.2C574.6,508.5 578.9,508.8 582.5,509.2C586.1,509.6 590.7,510.4 593.3,511.7C595.9,513 597.5,514.8 598.3,516.7C599.1,518.6 599.4,521.8 598.3,523.3C597.2,524.8 594.8,525.5 591.7,525.8C588.7,526.1 583.6,525.7 580,525C576.4,524.3 572.5,522.8 570,521.7C567.5,520.6 565.8,519.7 565,518.3C564.2,516.9 563.9,514.8 565,513.3Z"/>
<path d="M572.5,515C573.3,514.2 575.7,512.5 578.3,512.5C580.9,512.5 585.8,514.2 588.3,515C590.8,515.8 592.6,516.5 593.3,517.5C594,518.5 593.6,520 592.5,520.8C591.4,521.6 589.1,522.2 586.7,522.1C584.3,522 580.5,520.8 578.3,520C576.1,519.2 574.3,518.3 573.3,517.5C572.3,516.7 571.7,515.8 572.5,515Z"/>
<path d="M458,533C459.1,531.9 463,529.5 465.5,529.3C468,529 471.4,530.4 473,531.5C474.6,532.6 475.4,534.6 475.2,536C474.9,537.4 473.4,539.3 471.5,539.8C469.6,540.3 466.1,539.6 464,539C461.9,538.4 459.8,537 458.8,536C457.8,535 456.9,534.1 458,533Z"/>
<path d="M504.5,527C506.8,525 513.8,525.2 518,525.5C522.2,525.8 526.5,527.5 530,528.5C533.5,529.5 538,529 539,531.5C540,534 538.5,541.1 536,543.5C533.5,545.9 528.2,545.7 524,545.8C519.8,545.9 513.8,545.7 510.5,544.3C507.2,542.9 505.5,540.4 504.5,537.5C503.5,534.6 502.2,529 504.5,527Z"/>
<path d="M506,533.8C507.4,532.8 511.5,532.9 515,533C518.5,533.1 523.8,533.8 527,534.5C530.2,535.2 533.5,536.2 534.5,537.5C535.5,538.8 534.8,541 533,542C531.2,543 527.2,543.4 524,543.5C520.8,543.6 516.4,543.5 513.5,542.8C510.6,542 508.1,540.5 506.8,539C505.6,537.5 504.6,534.8 506,533.8Z"/>
<path d="M542,531.5C544,530.4 549.8,529.3 554,529.3C558.2,529.3 564,530.4 567.5,531.5C571,532.6 573.2,534.5 575,536C576.8,537.5 578.5,539.4 578,540.5C577.5,541.6 575,542.5 572,542.8C569,543 564,542.4 560,542C556,541.6 551,541.5 548,540.5C545,539.5 543,537.5 542,536C541,534.5 540,532.6 542,531.5Z"/>
<path d="M546.5,533.8C547.5,532.9 552,532.4 554,533C556,533.6 558.5,536.4 558.5,537.5C558.5,538.6 555.8,539.7 554,539.8C552.2,539.9 549.2,539.3 548,538.3C546.8,537.3 545.5,534.7 546.5,533.8Z"/>
<path d="M563,534.5C564.2,534 569.8,535.1 572,536C574.2,536.9 576.5,538.9 576.5,539.8C576.5,540.7 574,541.4 572,541.3C570,541.2 566,540.1 564.5,539C563,537.9 561.8,535 563,534.5Z"/>
<path d="M573.5,539C575.8,537.2 584.8,539.5 590,540.5C595.2,541.5 602,543 605,545C608,547 608.5,550.5 608,552.5C607.5,554.5 605.5,556.2 602,557C598.5,557.8 591.2,558 587,557C582.8,556 578.8,554 576.5,551C574.2,548 571.2,540.8 573.5,539Z"/>
<path d="M575,542C576.2,541 583,542.8 587,543.5C591,544.2 596,545.2 599,546.5C602,547.8 604.5,549.6 605,551C605.5,552.4 604.8,554.3 602,554.8C599.2,555.3 592.2,554.9 588.5,554C584.8,553.1 581.8,551.5 579.5,549.5C577.2,547.5 573.8,543 575,542Z"/>
<path d="M620,514C621.2,512.3 625.5,512.3 628,513C630.5,513.7 634.7,516.2 635,518C635.3,519.8 632.3,523.2 630,524C627.7,524.8 622.7,524.7 621,523C619.3,521.3 618.8,515.7 620,514Z"/>
<path d="M594,503C595.3,500.5 602.3,501.3 606,502C609.7,502.7 614,504.7 616,507C618,509.3 619,513.7 618,516C617,518.3 613.3,520.8 610,521C606.7,521.2 600.7,520 598,517C595.3,514 592.7,505.5 594,503Z"/>
<path d="M555,460C556.2,459.2 560,458.7 562,459C564,459.3 567.2,460.8 567,462C566.8,463.2 563,465.7 561,466C559,466.3 556,465 555,464C554,463 553.8,460.8 555,460Z"/>
<path d="M555,505.8C555.6,504.9 558.1,505 559.2,505.4C560.3,505.8 561.6,507.2 561.7,508.3C561.8,509.4 561,511.3 560,511.7C559,512.1 556.6,511.8 555.8,510.8C555,509.8 554.4,506.7 555,505.8Z"/>
<path d="M536.7,482.5C536.8,481.1 538.8,481 540,481.7C541.2,482.4 543.4,484.8 544.2,486.7C545,488.6 545.1,491.6 545,493.3C544.9,495 544,496.3 543.3,496.7C542.6,497.1 541.5,496.9 540.8,495.8C540.1,494.7 539.9,492.2 539.2,490C538.5,487.8 536.6,483.9 536.7,482.5Z"/>
<path d="M569.2,497.5C570,496.5 573.6,496.9 575,497.5C576.4,498.1 577.5,499.7 577.5,500.8C577.5,501.9 576.2,503.8 575,504.2C573.8,504.6 571,504.4 570,503.3C569,502.2 568.4,498.5 569.2,497.5Z"/>
<path d="M549.5,521C551,519.8 557.5,517.8 560,518C562.5,518.2 564.2,521.1 564.5,522.5C564.8,523.9 563.8,525.8 561.5,526.3C559.2,526.8 553,526.4 551,525.5C549,524.6 548,522.2 549.5,521Z"/>
<path d="M476,537.5C477,536.2 481.8,536.2 483.5,536.8C485.2,537.4 486.8,539.9 486.5,541.3C486.2,542.7 483.5,544.5 482,545C480.5,545.5 478.5,545.5 477.5,544.3C476.5,543 475,538.8 476,537.5Z"/>
<path d="M1061.5,694.7C1062.4,693.8 1066.1,694.7 1067.5,696.4C1068.9,698.1 1069.9,702.8 1070.1,705.1C1070.2,707.4 1069.3,709.7 1068.4,710.3C1067.5,710.9 1065.9,710 1064.9,708.5C1063.9,707 1062.9,703.9 1062.3,701.6C1061.7,699.3 1060.6,695.6 1061.5,694.7Z"/>
<path d="M578,884C579.3,882 584.3,881.8 588,882C591.7,882.2 597.7,883.2 600,885C602.3,886.8 603.7,891.2 602,893C600.3,894.8 593.7,895.8 590,896C586.3,896.2 582,896 580,894C578,892 576.7,886 578,884Z"/>
<path d="M652,888C653.3,885.5 658,885.8 660,887C662,888.2 664,892.5 664,895C664,897.5 662,900.8 660,902C658,903.2 653.3,904.3 652,902C650.7,899.7 650.7,890.5 652,888Z"/>
</g></g>
<g fill="#A8A8A8" stroke="#A8A8A8" stroke-width="0.45" font-family="DejaVu Sans" font-weight="200" font-size="16.5" text-anchor="middle">
<text x="180" y="217.7" textLength="37" lengthAdjust="spacingAndGlyphs">1575</text>
<text x="503.5" y="164.7" textLength="37" lengthAdjust="spacingAndGlyphs">1575</text>
<text x="201" y="305.2" textLength="37" lengthAdjust="spacingAndGlyphs">1569</text>
<text x="486.5" y="236.2" textLength="37" lengthAdjust="spacingAndGlyphs">1569</text>
<text x="798" y="170.7" textLength="37" lengthAdjust="spacingAndGlyphs">1569</text>
<text x="261.5" y="339.2" textLength="37" lengthAdjust="spacingAndGlyphs">1563</text>
<text x="528.5" y="291.2" textLength="37" lengthAdjust="spacingAndGlyphs">1563</text>
<text x="927.5" y="299.2" textLength="37" lengthAdjust="spacingAndGlyphs">1563</text>
<text x="293.5" y="389.7" textLength="37" lengthAdjust="spacingAndGlyphs">1557</text>
<text x="640" y="346.2" textLength="37" lengthAdjust="spacingAndGlyphs">1557</text>
<text x="937.5" y="387.2" textLength="37" lengthAdjust="spacingAndGlyphs">1557</text>
<text x="117.5" y="488.2" textLength="37" lengthAdjust="spacingAndGlyphs">1551</text>
<text x="461.5" y="433.2" textLength="37" lengthAdjust="spacingAndGlyphs">1551</text>
<text x="632" y="502.2" textLength="37" lengthAdjust="spacingAndGlyphs">1551</text>
<text x="914" y="485.7" textLength="37" lengthAdjust="spacingAndGlyphs">1551</text>
<text x="241.5" y="545.2" textLength="37" lengthAdjust="spacingAndGlyphs">1545</text>
<text x="622.5" y="562.2" textLength="37" lengthAdjust="spacingAndGlyphs">1545</text>
<text x="918.5" y="576.2" textLength="37" lengthAdjust="spacingAndGlyphs">1545</text>
<text x="145" y="626.2" textLength="37" lengthAdjust="spacingAndGlyphs">1539</text>
<text x="443.5" y="605.2" textLength="37" lengthAdjust="spacingAndGlyphs">1539</text>
<text x="729.5" y="607.2" textLength="37" lengthAdjust="spacingAndGlyphs">1539</text>
<text x="471.5" y="639.7" textLength="37" lengthAdjust="spacingAndGlyphs">1533</text>
<text x="914.5" y="732.7" textLength="37" lengthAdjust="spacingAndGlyphs">1533</text>
<text x="507.5" y="704.7" textLength="37" lengthAdjust="spacingAndGlyphs">1527</text>
<text x="378.5" y="760.2" textLength="37" lengthAdjust="spacingAndGlyphs">1521</text>
<text x="418.5" y="812.2" textLength="37" lengthAdjust="spacingAndGlyphs">1515</text>
</g>
<g clip-path="url(#mc)" fill="none" stroke="#000" stroke-width="1.25" stroke-linejoin="round">
<path d="M287.5,116.5 290,119.5 289,120ZM340,129.2 342.5,128.3 343.3,132.5 346.7,135 353.3,139.2 359.2,141.7 363.3,146.7 368.3,150.8 370,155 369.2,160 368.3,163.3 367.5,170 367.5,176.7 365.8,176.7 363.3,173.3 360,170.8 363.3,170 365.8,166.7 366.7,161.7 368.3,156.7 367.5,151.7 363.3,148.3 358.3,143.3 353.3,140.8 348.3,137.5 344.2,135.8 340,135.8 340.8,131.7ZM280.6,202.3 284,203.4 287.4,202.9 289.6,201.7 293,201.2 296.4,201.7 299.8,205.7 302.1,210.2 303.2,217 304.4,221.5 303.2,226.1 302.1,230.6 298.7,232.3 294.2,231.7 291.9,229.5 294.2,227.2 291.9,223.8 289.6,219.3 288.5,214.7 286.2,210.2 284,206.8 281.7,204.6ZM293,205.7 297.6,204.6 296.4,212.5 294.2,213.6ZM265.9,176.2 270.4,177.4 271,184.2 267,184.2ZM302.1,158.1 306.6,156.4 313.4,156.4 315.7,158.1 311.2,160.4 305.5,161 302.1,159.8ZM388.3,178.3 390.8,177.5 394.2,181.7 396.7,188.3 400,195 405,200 408.3,205 407.5,209.2 401.7,209.2 399.2,206.7 400.8,203.3 398.3,198.3 395.8,192.5 393.3,186.7 390.8,183.3 389.2,180.8ZM444.5,210 448.5,209 449,213.5 445.5,219 444,215ZM425,234 432,233 432.5,235.5 427,236.5ZM375,236 378,235 382,240 388,245 398,250 396,250.5 386,247.5 380,243 375.5,239.5ZM407,236 410,237 414,248 418,258 420,264 426,269 430,276 429,280 426,274 422,268 414,264 416,256 413,248 409,240ZM479.5,267.5 483.5,267.5 483,269.5 479.5,269.5ZM453,282 460,284 466,288 468,290 460,291 458,294 454,298 456,290 455,286ZM470,290 476,291 478,300 470,308 464,316 458,320 462,312 470,302 472,295ZM509.3,304.7 513.3,304.7 517.3,307.3 524,308 528.7,311.3 528,313.3 524,311.3 520,310 514.7,310 510,309.3ZM483.5,388 490,382 497,378 504,378.5 509.5,376 513.5,370.5 516,368.7 517,374 515,382 509.5,387.5 502,390.5 493,392ZM514,356.7 518,355.3 520.7,358.7 515.3,362ZM562.7,332.7 566.7,332.7 569.3,338 572,338.7 580,340 580.7,343.3 572,341.3 568,337.3 564,336ZM548.7,338 556,341.3 553.3,343.3 550,341.3ZM300.5,334 306,337 313,343 318,349 322.5,355 321,359.5 316,358 311,352 306,345 302,339ZM333.5,365 342.7,365 350,369.7 353.7,375.2 348,373.5 339,368.7ZM45.5,333.2 53.3,333.6 60.2,337.1 60.2,340.6 64.5,344.9 66.2,352.6 64.5,355.2 58.5,359.5 50.7,362.1 42.9,360.4 37.8,352.6 42.9,356.1 47.3,352.6 45.5,350 41.2,341.4 42.9,338ZM113.3,352.6 117,349.5 122.8,346.2 120,350.5 115,353ZM120.5,481.5 123,478.5 127,478.5 131,480 136,480.5 133,482.5 127,482.5 123,485ZM181,462 184,460 187.5,459.5 185,461.8ZM192.5,460.5 196,457.5 198.3,456.7 196.5,459.5ZM264,541 265,535 271,531 275,531 285,530.5 297,530.5 307,530.5 317,531 325,532 333,533 337,537 340,541 345,543 350,545 358,548 363,555 365,561 360,563 350,564 343,560 337,558 334,560 330,564 325,563 320,567 321,572 317,571 311,565 305,564 295,564 290,560 288,555 284,552 279,545 275,544 267,544ZM496.7,455 503.3,450 510,447.5 520,446.7 526.7,448.3 533.3,450 540,452.5 546.7,455.8 553.3,456.7 560,459.2 566.7,460.8 573.3,460 576.7,459.2 578.3,453.3 581.7,449.2 586.7,448.7 593.3,450.7 600,452.7 606.7,449.3 613.3,448 620,450.7 626.7,454.7 633.3,456.7 637.3,455.3 642.7,458.7 646.7,462.7 653.3,464 657.3,461.3 661.3,462 664,466.7 665.3,474.7 668,480 673.3,483.3 681.3,481.3 686.7,481.3 693.3,479.3 696,482.7 696,485.3 692,487.3 683,487 677,488 684,489.5 692,490 700,492 709,498.7 720,507 730,515 737,521 738,525 732,532 730.7,536 725.3,535.3 724,538.7 720,542.7 713.3,536 706.7,533.3 700,532.7 693.3,531.3 686.7,532 680,532 673.3,530.7 666.7,530 660,530.7 654.7,536 652,541.3 646.7,543.3 640,542.7 633.3,542.7 630.7,538.7 629.3,533.3 625.3,533.3 620,534.7 614.7,538.7 609.3,540 606.7,545 604,554.7 601.7,561.7 596.7,568.3 590,573.3 588.3,576.7 585,571.7 581.7,563.3 578.3,556.7 573.3,550 565,546.7 556.7,545 548.3,543.3 540,545 531.7,545.8 523.3,546.7 515,545 506.7,543.3 498.3,542.5 490,543.3 483.3,546.7 480,551.7 476.7,553.3 473.3,546.7 465,541.7 456.7,540 450,536.7 448.3,530 450,523.3 453.3,520 460,519.2 466.7,520.8 473.3,525 490,526.7 506.7,528.3 513.3,530 520,530.8 526.7,530 533.3,526.7 540,524.7 546.7,523.3 548.3,520 545,515 540,511.7 535,506.7 530,501.7 526.7,496.7 528.3,491.7 526.7,485 530.8,480 530,475 523.3,470 515,465.8 506.7,464.2 498.3,463.3 495,460ZM504,502 510,501.5 518,505 525,511 525.5,515 520,515 512,511 506,507ZM520,439 526,437.5 533,440 532,442.5 524,442 520,441ZM716,545.5 721,545 725,547 722,549 717,548.5ZM573,526 580,525 587,527.5 585,531 578,531.5 574,529.5ZM562,520.5 566,520 568,524 566,527 562.5,525ZM530,595 533,594.5 532,597.5ZM591.5,578.5 594,578 593.5,581 591,580.5ZM792,527.5 800,527 815,528 830,528.5 840,530 843,532 845,530.5 855,532 860,534 864.5,534.5 865,542 862,544 858,549 855,554 850,557 840,560 833,559 827,558 815,558 803,560 795,558.5 791,559 790.5,555 791,547 790.5,542 788,538 787.5,535 791,533ZM867,549 873,546.5 880.5,547.5 877,550.5 869,551ZM877.5,538 881,537.5 882,540.5 878.5,540.5ZM892.5,535 898,534.5 901.5,538.5 896,539ZM906,535 911,530.5 915,531.5 910,537.5 907,537.5ZM921,529.5 925.5,527 924.5,530ZM921,514.5 927,513.5 926,516.5ZM979.5,545 984,542 988.5,542.5 984,546.5ZM982.5,553 986,549.5 987,554 984,554.5ZM1041,576 1046,573.5 1048.5,578 1044,581 1041.5,579.5ZM1003.5,596 1006,597 1006.5,600 1003.5,599.5ZM1042,604 1048,604 1051.5,609 1049,614 1043,613 1041,608ZM1025,624 1028,623 1029,629 1026,630.5 1024.5,627ZM1056.3,656.7 1057.1,646.4 1059.7,641.2 1062.3,642.9 1063.2,648.1 1066.6,652.4 1073.5,655 1066.6,655.9 1060.6,657.6ZM1045.9,651.5 1050.2,649.8 1054.5,656.7 1056.3,665.4 1053.7,670.5 1049.4,670.5 1046.8,663.6ZM1066,671 1070,668.5 1074,671 1072,675.5 1067,675ZM1059.7,691.3 1063.2,690.4 1068.4,696.4 1071,703.4 1070.1,710.3 1066.6,713.7 1064,710.3 1061.5,703.4 1060.6,696.4ZM1071,733.8 1074.5,732.9 1081.4,737.2 1086.6,742.4 1090,751 1090,757.9 1086.6,756.2 1077.9,755.3 1077.1,751 1081.4,749.3 1078.8,746.7 1074.5,742.4 1071.9,737.2ZM1084.8,776.9 1087.4,782.1 1087.4,792.4 1084.8,798.4 1080.5,794.1 1078.8,788.1 1081.4,782.1ZM1073.6,817.4 1076.2,819.1 1077.1,825.2 1074.5,830.3 1070.7,828.6 1069.7,823.4 1071,819.1ZM1059.5,866 1062.5,865.5 1063,869.5 1060,870ZM656,860 659,861 664,869 662,872 657,866ZM698,874 702,874 706,881 713,886 717,892 713,893 707,888 700,882 697,877ZM734,878 738,879 742,884 743,889 741,894 739,886 735,882ZM122,816 123.5,815.5 123,819.5 121.5,820ZM106.5,861 108,860.5 108,865.5 106,866ZM57,752 58.5,752 58.5,754 57,754ZM104.5,101 106.8,107.5 107.5,112 109,109 115,109.7 121,112.7 124,116.5 124.8,121 127.8,125.5 130,130 131.5,134.5 133,139 136,140.5 142,143.5 143.5,146.5 140.5,149.5 137.5,146.5 134.5,143.5 132.2,145 133,149.5 136,153.2 142,152.5 148,150.2 154,151.8 160,148.8 162.2,147.2 166,148 169,144.2 172,142.8 173.5,139.8 172,137.5 170.5,130 173.5,121 178,115 181,110.5 181.8,101M122.5,175.5 124,180.5 119,178.5 115,179.5 109,184 103,186M310,101 311.5,103.5 314,106 316,110 318,106 318,101M289.1,172.3 285.1,162.7 282.6,157.8 280.8,152.7 280.6,150.8 279.4,148.7 275,150.2 271.5,149.1 272.6,154.7 273.8,162.7 270.4,168.3 267.6,174 263.6,179.6 262.5,184.2 267,188.7 272.6,191 275,193.2 277.2,196.6 279.4,199.5 282.8,198.9 287.4,195.5 291.9,192.1 294.7,188.7M293,196.6 296.4,197.2M350,199.5 353,202.5M356.5,210 358.5,216.5M492,295 495,296.5M583.3,344 589.3,347.3M542,347.3 543.3,350M604.7,357.3 605.3,360.7M33,273.8 41,273 48.3,272 54,273 61,270 68.5,268 75.8,264.7 85,262.8 94,263.7 103,264.7 110.7,265.6 114.3,269 120,267.4 127,264.7 131.7,262 130,264.7 136,269 143.7,265.6 151,267.4 158,268.3 163.8,273.8 169,275.7 176.7,276.6 186,280 195,283 204,286.7 208,290 213,297 217,304 224,308.7 232,308.7 240,308 249,311 258.3,316.5 267.5,322 276.7,327.5 285.8,334 289.5,336.7 295,340.3 304,343 313.3,347.7 322.5,353 331.7,362.3 337,367.8 350,371.5 359,375 368.3,379.8 377.5,380.7 386.7,379.8 392,384 393.3,390 390,391.7 386.7,396.7 388.3,402 396.7,400 405,402.5 408.3,405 413.3,402.5 421.7,403.3 430,405.8 435,408.3 440,415 446.7,420.8 453.3,423.3 460,426.7 464,431.7 457,438.3 446.7,439.2 430,441.7 418.3,440 405,444 395,448.3 380,445 363.3,443.3 346.7,445 330,447.5 313.3,449.2 301.7,451.7 294.2,451.7 296.7,445 303.3,438.3 310,433.3 316.7,428.3 321.7,423.3 324.2,418.3 323.3,415 318.3,410 316.7,405 311.7,402.5 305,404.2 296.7,403.3 288.3,401.7 282.2,402.7 273,397.2 263.8,389.8 258.3,382.5 256.5,373.3 252.8,358.7 247.3,352.3 240.8,353.6 231.7,354.5 222.5,355.4 213.3,352.7 204,350 195,345.3 185.8,341.7 176.7,336 171,332.5 166.6,328.8 165.7,325 158.3,326.6 143.7,327 134.5,325 132.7,317.8 130.8,316 129,323.3 121.7,321.5 112.5,319.7 103.3,318.8 97.8,315 92.3,311.4 85,306.8 86.8,305 99.7,304 107,301.3 108.8,297.7 103,294 94,293 85,292.2 66.7,291.2 57.5,291.2 52,297.7 44.7,301.3 39,306.8 33,311.4M251,300.5 256,301 262,305.5 269,308 276.7,311 281,316 284,318.3 290,323 295,327.5 300,330M423,370 427,368M215,380 219,382.5M225,386 231,391M235,395.5 243,400.5M255,402.5 259,403.5M260,409 265,412.5M576.7,459.2 578.3,465 578,471.7 576.7,480 580,488.3 576.7,496.7 578.3,505 576.7,513.3 575,521.7 573.3,530 575,538.3 578.3,546.7M994,559.5 995,560.5M995,590 1000,594 1003,596M1079,651 1083,649.5M1070.5,836 1072,838.5M1068,852 1068.5,855M552,902 556,882 562,881 566,886 570,883 568,878 572,875 577,870 582,870 590,872 598,876 602,882 604,890 600,898 598,902M651,902 652,891 656,886 660,885 664,890 666,896 667,902M34,721 38,724.5 34,728M34,752 36.5,758 36,766 34,770"/>
<path d="M181.5,110.5 180.5,117 179.5,123M178.5,133 176,138.5M173.5,142 170,146 166,151 163,157 160,161.5 154,167.5 148,171.2 142,174.2 134.5,177.2" stroke-dasharray="3.5 3" stroke-width="1.6"/>
</g>
<g stroke="#A2A2A8" fill="none" clip-path="url(#mc)">
<path d="M41.8,104H1133" stroke-width="1.7" stroke-dasharray="2.4 7.41"/>
<path d="M41.8,160.5H1133" stroke-width="1.7" stroke-dasharray="2.4 7.41"/>
<path d="M41.8,217H1133" stroke-width="1.7" stroke-dasharray="2.4 7.41"/>
<path d="M41.8,273.5H1133" stroke-width="1.7" stroke-dasharray="2.4 7.41"/>
<path d="M41.8,330H1133" stroke-width="1.7" stroke-dasharray="2.4 7.41"/>
<path d="M41.8,386.5H1133" stroke-width="1.7" stroke-dasharray="2.4 7.41"/>
<path d="M41.8,443H1133" stroke-width="1.7" stroke-dasharray="2.4 7.41"/>
<path d="M41.8,499.5H1133" stroke-width="1.7" stroke-dasharray="2.4 7.41"/>
<path d="M41.8,556H1133" stroke-width="1.7" stroke-dasharray="2.4 7.41"/>
<path d="M41.8,612.5H1133" stroke-width="1.7" stroke-dasharray="2.4 7.41"/>
<path d="M41.8,669H1133" stroke-width="1.7" stroke-dasharray="2.4 7.41"/>
<path d="M41.8,725.5H1133" stroke-width="1.7" stroke-dasharray="2.4 7.41"/>
<path d="M41.8,782H1133" stroke-width="1.7" stroke-dasharray="2.4 7.41"/>
<path d="M41.8,838.5H1133" stroke-width="1.7" stroke-dasharray="2.4 7.41"/>
<path d="M41.8,895H1133" stroke-width="1.7" stroke-dasharray="2.4 7.41"/>
<path d="M92.3,106.6V901.5" stroke-width="1.6" stroke-dasharray="2.4 7.41"/>
<path d="M186.6,106.6V901.5" stroke-width="1.6" stroke-dasharray="2.4 7.41"/>
<path d="M280.9,106.6V901.5" stroke-width="1.6" stroke-dasharray="2.4 7.41"/>
<path d="M375.2,106.6V901.5" stroke-width="1.6" stroke-dasharray="2.4 7.41"/>
<path d="M469.5,106.6V901.5" stroke-width="1.6" stroke-dasharray="2.4 7.41"/>
<path d="M563.8,106.6V901.5" stroke-width="1.6" stroke-dasharray="2.4 7.41"/>
<path d="M658.1,106.6V901.5" stroke-width="1.6" stroke-dasharray="2.4 7.41"/>
<path d="M752.4,106.6V901.5" stroke-width="1.6" stroke-dasharray="2.4 7.41"/>
<path d="M846.7,106.6V901.5" stroke-width="1.6" stroke-dasharray="2.4 7.41"/>
<path d="M941,106.6V901.5" stroke-width="1.6" stroke-dasharray="2.4 7.41"/>
<path d="M1035.3,106.6V901.5" stroke-width="1.6" stroke-dasharray="2.4 7.41"/>
<path d="M1129.6,106.6V901.5" stroke-width="1.6" stroke-dasharray="2.4 7.41"/>
</g>
<g clip-path="url(#mc)"><path fill="none" stroke="#3c3c3c" stroke-width="0.95" stroke-linecap="butt" d="M32.4,132.3L50.3,114.4M47.3,117.4l6.9,3.2M88.9,132.3L112.7,123.6M108.7,125.1l4.9,5.8M145.4,132.3L154.1,108.5M152.7,112.5l7.6,0M202,132.3L219.1,107.8M219.1,107.8l14.5,3.9M258.5,132.3L273,111.6M270.6,115l7.3,2M315,132.3L332.9,114.4M329.9,117.4l6.9,3.2M371.5,132.3L394.4,121.6M390.6,123.4l5.4,5.4M428,132.3L455.1,119.7M455.1,119.7l10.6,10.6M484.6,132.3L507.5,121.6M503.7,123.4l5.4,5.4M541.1,132.3L565.6,115.2M565.6,115.2l12.3,8.6M597.6,132.3L622.1,115.2M622.1,115.2l12.3,8.6M654.1,132.3L682.4,112.5M682.4,112.5l12.3,8.6M678.6,115.2l6.2,4.4M710.6,132.3L740.5,115.1M740.5,115.1l11.5,9.6M736.5,117.4l5.8,4.9M767.2,132.3L796,124.6M796,124.6l8.6,12.3M823.7,132.3L853.1,127.1M853.1,127.1l7.5,13M880.2,132.3L910,129.7M910,129.7l6.3,13.6M936.7,132.3L965.6,124.6M965.6,124.6l8.6,12.3M993.2,132.3L1017.7,125.8M1013.6,126.8l4.4,6.2M1049.8,132.3L1079.2,137.5M1079.2,137.5l2.6,14.8M1106.3,132.3L1130.7,125.8M1126.7,126.8l4.4,6.2M32.4,194.1L56.9,177M56.9,177l12.3,8.6M88.9,194.1L110.1,173M110.1,173l13.6,6.3M145.4,194.1L166.6,173M166.6,173l13.6,6.3M202,194.1L230.1,183.9M230.1,183.9l9.6,11.5M258.5,194.1L279.6,173M279.6,173l13.6,6.3M315,194.1L337.9,174.9M337.9,174.9l13,7.5M371.5,194.1L396,177M396,177l12.3,8.6M428,194.1L453.9,179.2M453.9,179.2l11.5,9.6M484.6,194.1L509.1,177M509.1,177l12.3,8.6M541.1,194.1L567.5,171.9M567.5,171.9l13,7.5M564,174.9l6.6,3.8M597.6,194.1L625.9,174.3M625.9,174.3l12.3,8.6M622.1,177l6.2,4.4M654.1,194.1L682.4,174.3M682.4,174.3l12.3,8.6M678.6,177l6.2,4.4M710.6,194.1L737.7,181.5M737.7,181.5l10.6,10.6M767.2,194.1L796.6,188.9M796.6,188.9l7.5,13M823.7,194.1L853.1,188.9M853.1,188.9l7.5,13M880.2,194.1L910.1,194.1M910.1,194.1l5.1,14.1M936.7,194.1L961.9,191.9M957.7,192.3l3.2,6.9M993.2,194.1L1018.4,196.3M1014.3,195.9l2,7.3M1049.8,194.1L1072.7,183.4M1068.9,185.2l5.4,5.4M1106.3,194.1L1125.7,177.8M1122.4,180.5l6.6,3.8M32.4,256.3L56.9,239.2M56.9,239.2l12.3,8.6M88.9,256.3L115.3,234.1M115.3,234.1l13,7.5M111.8,237.1l6.6,3.8M145.4,256.3L169.9,239.2M169.9,239.2l12.3,8.6M202,256.3L227.9,241.4M227.9,241.4l11.5,9.6M258.5,256.3L279.6,235.2M279.6,235.2l13.6,6.3M315,256.3L340.9,241.4M340.9,241.4l11.5,9.6M371.5,256.3L402.8,241.7M402.8,241.7l10.6,10.6M398.6,243.7l5.4,5.4M428,256.3L456.3,236.5M456.3,236.5l12.3,8.6M452.5,239.2l6.2,4.4M484.6,256.3L515.8,241.7M515.8,241.7l10.6,10.6M511.7,243.7l5.4,5.4M541.1,256.3L571,239.1M571,239.1l11.5,9.6M567,241.4l5.8,4.9M597.6,256.3L624.7,243.7M624.7,243.7l10.6,10.6M654.1,256.3L681.2,243.7M681.2,243.7l10.6,10.6M710.6,256.3L739.5,248.6M739.5,248.6l8.6,12.3M767.2,256.3L796.6,251.1M796.6,251.1l7.5,13M823.7,256.3L853.5,253.7M853.5,253.7l6.3,13.6M880.2,256.3L910.1,256.3M910.1,256.3l5.1,14.1M936.7,256.3L962,256.3M957.8,256.3l2.6,7.1M993.2,256.3L1023,253.7M1023,253.7l6.3,13.6M1049.8,256.3L1076.9,243.7M1076.9,243.7l10.6,10.6M1106.3,256.3L1132.2,241.4M1132.2,241.4l11.5,9.6M32.4,319.2L63.7,304.6M63.7,304.6l10.6,10.6M59.5,306.6l5.4,5.4M88.9,319.2L115.1,304.7M115.1,304.7l11.3,9.8M145.4,319.2L166.6,298.1M166.6,298.1l13.6,6.3M202,319.2L226.5,302.1M226.5,302.1l12.3,8.6M258.5,319.2L288.4,301.9M288.4,301.9l11.5,9.6M284.4,304.2l5.8,4.9M315,319.2L343.1,309M343.1,309l9.6,11.5M371.5,319.2L393.4,306.6M389.8,308.7l5.8,4.9M428,319.2L460.5,307.4M460.5,307.4l9.6,11.5M456.1,309l4.9,5.8M484.6,319.2L513.4,311.5M513.4,311.5l8.6,12.3M541.1,319.2L570,311.5M570,311.5l8.6,12.3M597.6,319.2L626.8,313M626.8,313l7.9,12.7M654.1,319.2L684,318.2M684,318.2l5.6,13.9M710.6,319.2L740.4,316.6M740.4,316.6l6.3,13.6M767.2,319.2L796,326.9M796,326.9l1.3,14.9M823.7,319.2L853.5,317.6M853.5,317.6l5.9,13.8M880.2,319.2L908.8,310.5M908.8,310.5l9,12M936.7,319.2L961.2,302.1M961.2,302.1l12.3,8.6M993.2,319.2L1019.1,304.2M1019.1,304.2l11.5,9.6M1049.8,319.2L1076.4,305.6M1076.4,305.6l11,10.2M1106.3,319.2L1134.9,310.5M1134.9,310.5l9,12M32.4,382.5L68.4,367.2M68.4,367.2l10.2,11M64.2,369l10.2,11M59.9,370.8l5.2,5.6M88.9,382.5L114.3,366.7M114.3,366.7l11.8,9.2M145.4,382.5L171.9,360.3M171.9,360.3l13,7.5M168.3,363.3l6.6,3.8M202,382.5L230.2,362.7M230.2,362.7l12.3,8.6M226.5,365.4l6.2,4.4M258.5,382.5L287.4,374.8M287.4,374.8l8.6,12.3M315,382.5L343.9,374.8M343.9,374.8l8.6,12.3M371.5,382.5L406,382.5M406,382.5l5.1,14.1M401.4,382.5l2.6,7.1M428,382.5L457.8,379.9M457.8,379.9l6.3,13.6M484.6,382.5L519,380.7M519,380.7l5.9,13.8M514.4,380.9l3,7M541.1,382.5L575.5,384.3M575.5,384.3l4.4,14.3M570.9,384.1l2.2,7.3M597.6,382.5L627.2,386.7M627.2,386.7l3.1,14.7M654.1,382.5L683.9,385.6M683.9,385.6l3.6,14.6M710.6,382.5L740.2,386.7M740.2,386.7l3.1,14.7M767.2,382.5L795.8,391.2M795.8,391.2l0.8,15M823.7,382.5L853.5,384.1M853.5,384.1l4.4,14.3M880.2,382.5L909.4,376.3M909.4,376.3l7.9,12.7M936.7,382.5L966.6,382.5M966.6,382.5l5.1,14.1M993.2,382.5L1019.6,368.5M1019.6,368.5l11.1,10M1049.8,382.5L1079.7,382.5M1079.7,382.5l5.1,14.1M1106.3,382.5L1135.7,377.3M1135.7,377.3l7.5,13M32.4,446.3L63.7,431.7M63.7,431.7l10.6,10.6M59.5,433.7l5.4,5.4M88.9,446.3L120.2,431.7M120.2,431.7l10.6,10.6M116,433.7l5.4,5.4M145.4,446.3L178.3,435.6M178.3,435.6l9.2,11.8M173.9,437.1l4.7,6M202,446.3L232.7,430.6M232.7,430.6l11,10.2M228.6,432.7l5.6,5.2M258.5,446.3L287.7,428M287.7,428l11.8,9.2M283.8,430.5l6,4.7M315,446.3L338.6,427.9M338.6,427.9l12.7,7.9M371.5,446.3L399.6,436.1M399.6,436.1l9.6,11.5M428,446.3L457.7,442.7M457.7,442.7l6.8,13.4M484.6,446.3L514.2,442.7M514.2,442.7l6.8,13.4M541.1,446.3L571,446.3M571,446.3l5.1,14.1M597.6,446.3L627,441.1M627,441.1l7.5,13M654.1,446.3L683,454M683,454l1.3,14.9M710.6,446.3L740.5,446.3M740.5,446.3l5.1,14.1M767.2,446.3L796.9,448.9M796.9,448.9l3.9,14.5M823.7,446.3L853.5,443.7M853.5,443.7l6.3,13.6M880.2,446.3L909.6,441.1M909.6,441.1l7.5,13M936.7,446.3L965.2,437.1M965.2,437.1l9.2,11.8M993.2,446.3L1022.7,441.1M1022.7,441.1l7.5,13M1049.8,446.3L1079.4,442.7M1079.4,442.7l6.8,13.4M1106.3,446.3L1135.7,441.1M1135.7,441.1l7.5,13M32.4,510.5L65.4,500.4M65.4,500.4l9,12M61,501.8l4.6,6.1M88.9,510.5L120.2,495.9M120.2,495.9l10.6,10.6M116,497.9l5.4,5.4M145.4,510.5L178.8,501.6M178.8,501.6l8.6,12.3M174.3,502.8l4.4,6.2M202,510.5L233.2,495.9M233.2,495.9l10.6,10.6M229.1,497.9l5.4,5.4M258.5,510.5L289.2,494.8M289.2,494.8l11,10.2M285.1,496.9l5.6,5.2M315,510.5L343.3,490.7M343.3,490.7l12.3,8.6M339.5,493.4l6.2,4.4M371.5,510.5L400.4,502.8M400.4,502.8l8.6,12.3M428,510.5L456.1,500.3M456.1,500.3l9.6,11.5M484.6,510.5L513.8,504.3M513.8,504.3l7.9,12.7M541.1,510.5L568.2,497.9M568.2,497.9l10.6,10.6M597.6,510.5L627,505.3M627,505.3l7.5,13M654.1,510.5L688.6,510.5M688.6,510.5l5.1,14.1M684,510.5l2.6,7.1M710.6,510.5L743.8,501M743.8,501l8.8,12.1M739.4,502.3l4.5,6.1M767.2,510.5L801.5,507.5M801.5,507.5l6.3,13.6M796.9,507.9l3.2,6.9M823.7,510.5L858.2,510.5M858.2,510.5l5.1,14.1M853.6,510.5l2.6,7.1M880.2,510.5L914.7,510.5M914.7,510.5l5.1,14.1M910.1,510.5l2.6,7.1M936.7,510.5L971,506.9M971,506.9l6.6,13.5M966.5,507.4l3.3,6.8M993.2,510.5L1027,503.3M1027,503.3l7.9,12.7M1022.5,504.3l4,6.4M1049.8,510.5L1083.5,503.3M1083.5,503.3l7.9,12.7M1079,504.3l4,6.4M1106.3,510.5L1139.6,501.6M1139.6,501.6l8.6,12.3M1135.2,502.8l4.4,6.2M32.4,575.2L65.2,564.5M65.2,564.5l9.2,11.8M60.8,566l4.7,6M88.9,575.2L121.7,564.5M121.7,564.5l9.2,11.8M117.4,566l9.2,11.8M145.4,575.2L177.4,562.3M177.4,562.3l10,11.1M173.2,564l10,11.1M202,575.2L233.9,562.3M233.9,562.3l10,11.1M229.7,564l5.1,5.6M258.5,575.2L290.5,562.3M290.5,562.3l10,11.1M286.2,564l5.1,5.6M315,575.2L348.3,566.3M348.3,566.3l8.6,12.3M343.9,567.5l4.4,6.2M371.5,575.2L401.4,575.2M401.4,575.2l5.1,14.1M428,575.2L457.9,576.8M457.9,576.8l4.4,14.3M484.6,575.2L518.8,571M518.8,571l6.8,13.4M514.2,571.6l3.5,6.8M541.1,575.2L573.9,564.5M573.9,564.5l9.2,11.8M569.5,566l4.7,6M597.6,575.2L630.4,564.5M630.4,564.5l9.2,11.8M626,566l9.2,11.8M654.1,575.2L687.4,566.3M687.4,566.3l8.6,12.3M683,567.5l8.6,12.3M710.6,575.2L744.3,567.4M744.3,567.4l8.2,12.6M739.8,568.5l8.2,12.6M767.2,575.2L801.1,569.2M801.1,569.2l7.5,13M796.6,570l7.5,13M823.7,575.2L853.5,577.8M853.5,577.8l3.9,14.5M880.2,575.2L910.1,575.2M910.1,575.2l5.1,14.1M936.7,575.2L971.2,575.2M971.2,575.2l5.1,14.1M966.6,575.2l5.1,14.1M993.2,575.2L1027.5,571M1027.5,571l6.8,13.4M1022.9,571.6l6.8,13.4M1049.8,575.2L1083.5,568M1083.5,568l7.9,12.7M1079,569l4,6.4M1106.3,575.2L1140.3,569.2M1140.3,569.2l7.5,13M1135.7,570l3.8,6.6M32.4,640.3L65.2,629.6M65.2,629.6l9.2,11.8M60.8,631.1l4.7,6M88.9,640.3L120.9,627.4M120.9,627.4l10,11.1M116.6,629.1l5.1,5.6M145.4,640.3L175.9,624.1M175.9,624.1l11.1,10M171.8,626.3l11.1,10M202,640.3L233.9,627.4M233.9,627.4l10,11.1M229.7,629.1l5.1,5.6M258.5,640.3L290.9,628.5M290.9,628.5l9.6,11.5M286.6,630.1l4.9,5.8M315,640.3L348.7,633.1M348.7,633.1l7.9,12.7M344.2,634.1l4,6.4M371.5,640.3L405.8,636.7M405.8,636.7l6.6,13.5M401.3,637.2l6.6,13.5M428,640.3L462.5,640.3M462.5,640.3l5.1,14.1M457.9,640.3l5.1,14.1M484.6,640.3L519.1,640.3M519.1,640.3l5.1,14.1M514.5,640.3l5.1,14.1M541.1,640.3L580.1,642.3M580.1,642.3l4.4,14.3M575.5,642.1l4.4,14.3M570.9,641.9l2.2,7.3M597.6,640.3L631.8,635.5M631.8,635.5l7,13.2M627.2,636.1l7,13.2M654.1,640.3L688.3,635.5M688.3,635.5l7,13.2M683.7,636.1l7,13.2M710.6,640.3L744.8,635.5M744.8,635.5l7,13.2M740.2,636.1l7,13.2M767.2,640.3L801.3,635.5M801.3,635.5l7,13.2M796.8,636.1l7,13.2M823.7,640.3L858.2,641.5M858.2,641.5l4.6,14.3M853.6,641.3l4.6,14.3M880.2,640.3L914.4,635.5M914.4,635.5l7,13.2M909.8,636.1l7,13.2M936.7,640.3L971.2,640.3M971.2,640.3l5.1,14.1M966.6,640.3l5.1,14.1M993.2,640.3L1027.7,638.5M1027.7,638.5l5.9,13.8M1023.1,638.7l5.9,13.8M1049.8,640.3L1084.1,637.3M1084.1,637.3l6.3,13.6M1079.5,637.7l6.3,13.6M1106.3,640.3L1140.6,637.3M1140.6,637.3l6.3,13.6M1136.1,637.7l6.3,13.6M32.4,705.8L65.2,695.1M65.2,695.1l9.2,11.8M60.8,696.6l4.7,6M88.9,705.8L121.7,695.1M121.7,695.1l9.2,11.8M117.4,696.6l4.7,6M145.4,705.8L178.3,695.1M178.3,695.1l9.2,11.8M173.9,696.6l9.2,11.8M202,705.8L234.8,695.1M234.8,695.1l9.2,11.8M230.4,696.6l9.2,11.8M258.5,705.8L292.1,698M292.1,698l8.2,12.6M287.6,699.1l4.1,6.4M315,705.8L349,699.8M349,699.8l7.5,13M344.4,700.6l7.5,13M371.5,705.8L405.8,701.6M405.8,701.6l6.8,13.4M401.2,702.2l6.8,13.4M428,705.8L467.1,705.8M467.1,705.8l5.1,14.1M462.5,705.8l5.1,14.1M457.9,705.8l2.6,7.1M484.6,705.8L523.6,707.2M523.6,707.2l4.6,14.3M519,707l4.6,14.3M514.4,706.8l2.3,7.2M541.1,705.8L575.6,705.8M575.6,705.8l5.1,14.1M571,705.8l5.1,14.1M597.6,705.8L631.8,701M631.8,701l7,13.2M627.2,701.6l7,13.2M654.1,705.8L688.5,708.2M688.5,708.2l4.1,14.4M683.9,707.9l4.1,14.4M710.6,705.8L745,702.2M745,702.2l6.6,13.5M740.4,702.7l3.3,6.8M767.2,705.8L801.6,707M801.6,707l4.6,14.3M797,706.8l2.3,7.2M823.7,705.8L858.2,705.2M858.2,705.2l5.4,14M853.6,705.3l5.4,14M880.2,705.8L914.5,702.2M914.5,702.2l6.6,13.5M909.9,702.7l3.3,6.8M936.7,705.8L971.2,705.2M971.2,705.2l5.4,14M966.6,705.3l2.7,7.1M993.2,705.8L1027.6,702.2M1027.6,702.2l6.6,13.5M1023,702.7l6.6,13.5M1049.8,705.8L1084.1,702.2M1084.1,702.2l6.6,13.5M1079.5,702.7l6.6,13.5M1106.3,705.8L1139.6,696.9M1139.6,696.9l8.6,12.3M1135.2,698.1l8.6,12.3M32.4,771.7L60.1,760.5M60.1,760.5l10,11.1M88.9,771.7L121.3,759.9M121.3,759.9l9.6,11.5M117,761.5l4.9,5.8M145.4,771.7L178.3,761M178.3,761l9.2,11.8M173.9,762.5l4.7,6M202,771.7L234.4,759.9M234.4,759.9l9.6,11.5M230.1,761.5l9.6,11.5M258.5,771.7L290.5,758.8M290.5,758.8l10,11.1M286.2,760.5l10,11.1M315,771.7L352.2,759.6M352.2,759.6l9.2,11.8M347.8,761l9.2,11.8M343.4,762.5l4.7,6M371.5,771.7L410.2,766.3M410.2,766.3l7,13.2M405.7,766.9l7,13.2M401.1,767.5l3.6,6.7M428,771.7L466.8,766.3M466.8,766.3l7,13.2M462.2,766.9l7,13.2M457.6,767.5l3.6,6.7M484.6,771.7L519,772.9M519,772.9l4.6,14.3M514.4,772.7l4.6,14.3M541.1,771.7L580.1,774.4M580.1,774.4l4.1,14.4M575.5,774.1l4.1,14.4M570.9,773.8l2.1,7.3M597.6,771.7L632,774.1M632,774.1l4.1,14.4M627.4,773.8l4.1,14.4M654.1,771.7L688.6,772.9M688.6,772.9l4.6,14.3M684,772.7l4.6,14.3M710.6,771.7L745.1,774.1M745.1,774.1l4.1,14.4M740.5,773.8l4.1,14.4M767.2,771.7L801.6,774.1M801.6,774.1l4.1,14.4M797,773.8l4.1,14.4M823.7,771.7L858.1,769.3M858.1,769.3l6.1,13.7M853.5,769.6l3.1,6.9M880.2,771.7L914.5,768.1M914.5,768.1l6.6,13.5M909.9,768.6l3.3,6.8M936.7,771.7L971,768.1M971,768.1l6.6,13.5M966.5,768.6l3.3,6.8M993.2,771.7L1027.2,765.7M1027.2,765.7l7.5,13M1022.7,766.5l7.5,13M1049.8,771.7L1083.7,765.7M1083.7,765.7l7.5,13M1079.2,766.5l3.8,6.6M1106.3,771.7L1140,764.5M1140,764.5l7.9,12.7M1135.5,765.5l4,6.4M32.4,837.9L63.7,823.3M63.7,823.3l10.6,10.6M59.5,825.3l10.6,10.6M88.9,837.9L120.2,823.3M120.2,823.3l10.6,10.6M116,825.3l10.6,10.6M145.4,837.9L176.7,823.3M176.7,823.3l10.6,10.6M172.5,825.3l10.6,10.6M202,837.9L233.2,823.3M233.2,823.3l10.6,10.6M229.1,825.3l10.6,10.6M258.5,837.9L288.4,820.6M288.4,820.6l11.5,9.6M284.4,822.9l11.5,9.6M315,837.9L349.5,819.5M349.5,819.5l11.1,10M345.5,821.7l11.1,10M341.4,823.9l5.6,5.1M371.5,837.9L409.8,829.8M409.8,829.8l7.9,12.7M405.3,830.7l7.9,12.7M400.8,831.7l4,6.4M428,837.9L467.1,835.9M467.1,835.9l5.9,13.8M462.5,836.1l5.9,13.8M457.9,836.3l3,7M484.6,837.9L523.6,839.3M523.6,839.3l4.6,14.3M519,839.1l4.6,14.3M514.4,838.9l2.3,7.2M541.1,837.9L580.1,840.6M580.1,840.6l4.1,14.4M575.5,840.3l4.1,14.4M570.9,840l2.1,7.3M597.6,837.9L636.6,840.6M636.6,840.6l4.1,14.4M632,840.3l4.1,14.4M627.4,840l2.1,7.3M654.1,837.9L688.5,840.3M688.5,840.3l4.1,14.4M683.9,840l4.1,14.4M710.6,837.9L745.1,839.7M745.1,839.7l4.4,14.3M740.5,839.5l2.2,7.3M767.2,837.9L801.6,836.7M801.6,836.7l5.6,13.9M797,836.9l2.8,7M823.7,837.9L858.2,836.7M858.2,836.7l5.6,13.9M853.6,836.9l2.8,7M880.2,837.9L914.6,834.9M914.6,834.9l6.3,13.6M910,835.3l3.2,6.9M936.7,837.9L961.6,833.5M957.5,834.2l3.8,6.6M993.2,837.9L1027.4,833.1M1027.4,833.1l7,13.2M1022.8,833.7l3.6,6.7M1049.8,837.9L1082.6,827.2M1082.6,827.2l9.2,11.8M1078.2,828.7l4.7,6M1106.3,837.9L1139.6,829M1139.6,829l8.6,12.3M1135.2,830.2l4.4,6.2M32.4,904.4L63.7,889.8M63.7,889.8l10.6,10.6M59.5,891.8l10.6,10.6M88.9,904.4L120.2,889.8M120.2,889.8l10.6,10.6M116,891.8l10.6,10.6M145.4,904.4L175.9,888.2M175.9,888.2l11.1,10M171.8,890.4l11.1,10M202,904.4L231.8,887.1M231.8,887.1l11.5,9.6M227.9,889.4l11.5,9.6M258.5,904.4L287.7,886.1M287.7,886.1l11.8,9.2M283.8,888.6l11.8,9.2M315,904.4L344.9,887.1M344.9,887.1l11.5,9.6M340.9,889.4l11.5,9.6M371.5,904.4L402.8,889.8M402.8,889.8l10.6,10.6M398.6,891.8l10.6,10.6M428,904.4L460.5,892.6M460.5,892.6l9.6,11.5M456.1,894.2l9.6,11.5M484.6,904.4L517.9,895.5M517.9,895.5l8.6,12.3M513.4,896.7l8.6,12.3M541.1,904.4L575.1,898.4M575.1,898.4l7.5,13M570.5,899.2l7.5,13M597.6,904.4L632,901.4M632,901.4l6.3,13.6M627.4,901.8l6.3,13.6M654.1,904.4L688.5,901.4M688.5,901.4l6.3,13.6M683.9,901.8l6.3,13.6M710.6,904.4L745,901.4M745,901.4l6.3,13.6M740.4,901.8l6.3,13.6M767.2,904.4L801.5,901.4M801.5,901.4l6.3,13.6M796.9,901.8l6.3,13.6M823.7,904.4L858,901.4M858,901.4l6.3,13.6M853.5,901.8l6.3,13.6M880.2,904.4L914.6,901.4M914.6,901.4l6.3,13.6M910,901.8l6.3,13.6M936.7,904.4L971.1,901.4M971.1,901.4l6.3,13.6M966.5,901.8l6.3,13.6M993.2,904.4L1027.6,901.4M1027.6,901.4l6.3,13.6M1023,901.8l6.3,13.6M1049.8,904.4L1083.7,898.4M1083.7,898.4l7.5,13M1079.2,899.2l7.5,13M1106.3,904.4L1140.3,898.4M1140.3,898.4l7.5,13M1135.7,899.2l7.5,13"/></g>
<g fill="#A0A0A0" font-weight="bold" font-size="13.6">
<text x="25.5" y="109" text-anchor="end" textLength="21" lengthAdjust="spacingAndGlyphs">26N</text>
<rect x="28" y="103.4" width="3" height="1.3"/>
<text x="25.5" y="165.5" text-anchor="end" textLength="21" lengthAdjust="spacingAndGlyphs">25N</text>
<rect x="28" y="159.9" width="3" height="1.3"/>
<text x="25.5" y="222" text-anchor="end" textLength="21" lengthAdjust="spacingAndGlyphs">24N</text>
<rect x="28" y="216.4" width="3" height="1.3"/>
<text x="25.5" y="278.5" text-anchor="end" textLength="21" lengthAdjust="spacingAndGlyphs">23N</text>
<rect x="28" y="272.9" width="3" height="1.3"/>
<text x="25.5" y="335" text-anchor="end" textLength="21" lengthAdjust="spacingAndGlyphs">22N</text>
<rect x="28" y="329.4" width="3" height="1.3"/>
<text x="25.5" y="391.5" text-anchor="end" textLength="21" lengthAdjust="spacingAndGlyphs">21N</text>
<rect x="28" y="385.9" width="3" height="1.3"/>
<text x="25.5" y="448" text-anchor="end" textLength="21" lengthAdjust="spacingAndGlyphs">20N</text>
<rect x="28" y="442.4" width="3" height="1.3"/>
<text x="25.5" y="504.5" text-anchor="end" textLength="21" lengthAdjust="spacingAndGlyphs">19N</text>
<rect x="28" y="498.9" width="3" height="1.3"/>
<text x="25.5" y="561" text-anchor="end" textLength="21" lengthAdjust="spacingAndGlyphs">18N</text>
<rect x="28" y="555.4" width="3" height="1.3"/>
<text x="25.5" y="617.5" text-anchor="end" textLength="21" lengthAdjust="spacingAndGlyphs">17N</text>
<rect x="28" y="611.9" width="3" height="1.3"/>
<text x="25.5" y="674" text-anchor="end" textLength="21" lengthAdjust="spacingAndGlyphs">16N</text>
<rect x="28" y="668.4" width="3" height="1.3"/>
<text x="25.5" y="730.5" text-anchor="end" textLength="21" lengthAdjust="spacingAndGlyphs">15N</text>
<rect x="28" y="724.9" width="3" height="1.3"/>
<text x="25.5" y="787" text-anchor="end" textLength="21" lengthAdjust="spacingAndGlyphs">14N</text>
<rect x="28" y="781.4" width="3" height="1.3"/>
<text x="25.5" y="843.5" text-anchor="end" textLength="21" lengthAdjust="spacingAndGlyphs">13N</text>
<rect x="28" y="837.9" width="3" height="1.3"/>
<text x="25.5" y="900" text-anchor="end" textLength="21" lengthAdjust="spacingAndGlyphs">12N</text>
<rect x="28" y="894.4" width="3" height="1.3"/>
<text x="92.3" y="918.8" text-anchor="middle" textLength="21.3" lengthAdjust="spacingAndGlyphs">82W</text>
<rect x="91.7" y="905.5" width="1.3" height="2"/>
<text x="186.6" y="918.8" text-anchor="middle" textLength="21.3" lengthAdjust="spacingAndGlyphs">80W</text>
<rect x="186" y="905.5" width="1.3" height="2"/>
<text x="280.9" y="918.8" text-anchor="middle" textLength="21.3" lengthAdjust="spacingAndGlyphs">78W</text>
<rect x="280.3" y="905.5" width="1.3" height="2"/>
<text x="375.2" y="918.8" text-anchor="middle" textLength="21.3" lengthAdjust="spacingAndGlyphs">76W</text>
<rect x="374.6" y="905.5" width="1.3" height="2"/>
<text x="469.5" y="918.8" text-anchor="middle" textLength="21.3" lengthAdjust="spacingAndGlyphs">74W</text>
<rect x="468.9" y="905.5" width="1.3" height="2"/>
<text x="563.8" y="918.8" text-anchor="middle" textLength="21.3" lengthAdjust="spacingAndGlyphs">72W</text>
<rect x="563.2" y="905.5" width="1.3" height="2"/>
<text x="658.1" y="918.8" text-anchor="middle" textLength="21.3" lengthAdjust="spacingAndGlyphs">70W</text>
<rect x="657.5" y="905.5" width="1.3" height="2"/>
<text x="752.4" y="918.8" text-anchor="middle" textLength="21.3" lengthAdjust="spacingAndGlyphs">68W</text>
<rect x="751.8" y="905.5" width="1.3" height="2"/>
<text x="846.7" y="918.8" text-anchor="middle" textLength="21.3" lengthAdjust="spacingAndGlyphs">66W</text>
<rect x="846.1" y="905.5" width="1.3" height="2"/>
<text x="941" y="918.8" text-anchor="middle" textLength="21.3" lengthAdjust="spacingAndGlyphs">64W</text>
<rect x="940.4" y="905.5" width="1.3" height="2"/>
<text x="1035.3" y="918.8" text-anchor="middle" textLength="21.3" lengthAdjust="spacingAndGlyphs">62W</text>
<rect x="1034.7" y="905.5" width="1.3" height="2"/>
<text x="1129.6" y="918.8" text-anchor="middle" textLength="21.3" lengthAdjust="spacingAndGlyphs">60W</text>
<rect x="1129" y="905.5" width="1.3" height="2"/>
</g>
<rect x="1144.8" y="98.7" width="17.4" height="805.4" fill="#fff" stroke="#C8C8C8" stroke-width="1.3"/>
<rect x="1145.8" y="100.8" width="15.4" height="26.4" fill="#0000FF"/>
<rect x="1145.8" y="128.8" width="15.4" height="27.1" fill="#0000E0"/>
<rect x="1145.8" y="157.5" width="15.4" height="27.1" fill="#00008B"/>
<rect x="1145.8" y="186.2" width="15.4" height="27.1" fill="#1A0066"/>
<rect x="1145.8" y="214.9" width="15.4" height="27.1" fill="#2A1E80"/>
<rect x="1145.8" y="243.6" width="15.4" height="27.1" fill="#3C56A0"/>
<rect x="1145.8" y="272.3" width="15.4" height="27.1" fill="#4A80BC"/>
<rect x="1145.8" y="300.9" width="15.4" height="27.1" fill="#6496C8"/>
<rect x="1145.8" y="329.6" width="15.4" height="27.1" fill="#8CC0E0"/>
<rect x="1145.8" y="358.3" width="15.4" height="27.1" fill="#B0DCEC"/>
<rect x="1145.8" y="387" width="15.4" height="27.1" fill="#C4E8F2"/>
<rect x="1145.8" y="415.7" width="15.4" height="27.1" fill="#DCF2F8"/>
<rect x="1145.8" y="444.4" width="15.4" height="27.1" fill="#CCF6FC"/>
<rect x="1145.8" y="473.1" width="15.4" height="27.1" fill="#FFFFFF"/>
<rect x="1145.8" y="501.8" width="15.4" height="27.1" fill="#F9F1CC"/>
<rect x="1145.8" y="530.5" width="15.4" height="27.1" fill="#FBF4E1"/>
<rect x="1145.8" y="559.1" width="15.4" height="27.1" fill="#F7ECC8"/>
<rect x="1145.8" y="587.8" width="15.4" height="27.1" fill="#F0E2B8"/>
<rect x="1145.8" y="616.5" width="15.4" height="27.1" fill="#DFC38F"/>
<rect x="1145.8" y="645.2" width="15.4" height="27.1" fill="#C89A62"/>
<rect x="1145.8" y="673.9" width="15.4" height="27.1" fill="#BA8050"/>
<rect x="1145.8" y="702.6" width="15.4" height="27.1" fill="#A45A3E"/>
<rect x="1145.8" y="731.3" width="15.4" height="27.1" fill="#8B1A2A"/>
<rect x="1145.8" y="760" width="15.4" height="27.1" fill="#6E0020"/>
<rect x="1145.8" y="788.7" width="15.4" height="27.1" fill="#A00000"/>
<rect x="1145.8" y="817.4" width="15.4" height="27.1" fill="#C00000"/>
<rect x="1145.8" y="846" width="15.4" height="27.1" fill="#DC0000"/>
<rect x="1145.8" y="874.7" width="15.4" height="27.7" fill="#FF0000"/>
<g fill="#111" font-size="13.4">
<text x="1166" y="132.7">1641</text>
<text x="1166" y="161.4">1635</text>
<text x="1166" y="190.1">1629</text>
<text x="1166" y="218.8">1623</text>
<text x="1166" y="247.5">1617</text>
<text x="1166" y="276.2">1611</text>
<text x="1166" y="304.8">1605</text>
<text x="1166" y="333.5">1599</text>
<text x="1166" y="362.2">1593</text>
<text x="1166" y="390.9">1587</text>
<text x="1166" y="419.6">1581</text>
<text x="1166" y="448.3">1575</text>
<text x="1166" y="477">1569</text>
<text x="1166" y="505.7">1563</text>
<text x="1166" y="534.4">1557</text>
<text x="1166" y="563.1">1551</text>
<text x="1166" y="591.7">1545</text>
<text x="1166" y="620.4">1539</text>
<text x="1166" y="649.1">1533</text>
<text x="1166" y="677.8">1527</text>
<text x="1166" y="706.5">1521</text>
<text x="1166" y="735.2">1515</text>
<text x="1166" y="763.9">1509</text>
<text x="1166" y="792.6">1503</text>
<text x="1166" y="821.3">1497</text>
<text x="1166" y="850">1491</text>
<text x="1166" y="878.6">1485</text>
</g>
<g font-family="DejaVu Sans" font-weight="200" font-size="29" fill="#000" stroke="#000" stroke-width="0.45">
<text x="107.5" y="32.5" textLength="99.5" lengthAdjust="spacingAndGlyphs">Altura</text>
<text x="225" y="32.5" textLength="52" lengthAdjust="spacingAndGlyphs">del</text>
<text x="295" y="32.5" textLength="75.5" lengthAdjust="spacingAndGlyphs">nivel</text>
<text x="389" y="32.5" textLength="41" lengthAdjust="spacingAndGlyphs">de</text>
<text x="449" y="32.5" textLength="90" lengthAdjust="spacingAndGlyphs">geop.</text>
<text x="561" y="32.5" textLength="210" lengthAdjust="spacingAndGlyphs">(km,somb.),</text>
<text x="786" y="32.5" textLength="329.5" lengthAdjust="spacingAndGlyphs">Viento(nudos,vast.)</text>
</g>
<g font-family="DejaVu Sans" font-size="16.4" fill="#1E1EFA">
<text x="58" y="60" textLength="135" lengthAdjust="spacingAndGlyphs">22—Dic—2025</text>
<text x="214.5" y="60" textLength="49" lengthAdjust="spacingAndGlyphs">0000</text>
<text x="273" y="60" textLength="37.5" lengthAdjust="spacingAndGlyphs">UTC</text>
<text x="325.5" y="61.5" font-size="19" text-anchor="middle">/</text>
<text x="344" y="60" textLength="43" lengthAdjust="spacingAndGlyphs">8:00</text>
<text x="396.5" y="60" textLength="32" lengthAdjust="spacingAndGlyphs">pm</text>
<text x="436.5" y="60" textLength="47" lengthAdjust="spacingAndGlyphs">Hora</text>
<text x="490" y="60" textLength="53" lengthAdjust="spacingAndGlyphs">Local</text>
<text x="557.5" y="61.5" font-size="19" text-anchor="middle">/</text>
<text x="575" y="60" textLength="13" lengthAdjust="spacingAndGlyphs">Z</text>
<text x="598" y="60" textLength="15" lengthAdjust="spacingAndGlyphs">=</text>
<text x="624" y="60" textLength="67" lengthAdjust="spacingAndGlyphs">850mb</text>
<text x="724" y="60" textLength="43" lengthAdjust="spacingAndGlyphs">Valor</text>
<text x="775.8" y="60" textLength="37.2" lengthAdjust="spacingAndGlyphs">Min.</text>
<text x="821.6" y="60" textLength="15.2" lengthAdjust="spacingAndGlyphs">=</text>
<text x="843" y="60" textLength="73.2" lengthAdjust="spacingAndGlyphs">1.50132</text>
<text x="935.4" y="60" textLength="42.4" lengthAdjust="spacingAndGlyphs">Valor</text>
<text x="985.8" y="60" textLength="41" lengthAdjust="spacingAndGlyphs">Max.</text>
<text x="1034" y="60" textLength="16" lengthAdjust="spacingAndGlyphs">=</text>
<text x="1057" y="60" textLength="74" lengthAdjust="spacingAndGlyphs">1.58265</text>
</g>
<g font-family="DejaVu Sans" font-size="14.6" fill="#0A96FA">
<text x="50" y="81.3" textLength="92.4" lengthAdjust="spacingAndGlyphs">Pronóstico</text>
<text x="150" y="81.3" textLength="32" lengthAdjust="spacingAndGlyphs">con</text>
<text x="189.8" y="81.3" textLength="17.8" lengthAdjust="spacingAndGlyphs">el</text>
<text x="215.4" y="81.3" textLength="59" lengthAdjust="spacingAndGlyphs">Modelo</text>
<text x="282.4" y="81.3" textLength="102.8" lengthAdjust="spacingAndGlyphs">Atmosférico</text>
<text x="393.4" y="81.3" textLength="35.4" lengthAdjust="spacingAndGlyphs">WRF</text>
<text x="437.2" y="81.3" textLength="93.8" lengthAdjust="spacingAndGlyphs">inicializado</text>
<text x="540" y="81.3" textLength="13" lengthAdjust="spacingAndGlyphs">a</text>
<text x="559" y="81.3" textLength="26.4" lengthAdjust="spacingAndGlyphs">las</text>
<text x="593.6" y="81.3" textLength="181.8" lengthAdjust="spacingAndGlyphs">0000UTC_22DIC2025</text>
<text x="781" y="81.3" textLength="12.4" lengthAdjust="spacingAndGlyphs">y</text>
<text x="801.4" y="81.3" textLength="50" lengthAdjust="spacingAndGlyphs">válido</text>
<text x="859.6" y="81.3" textLength="47.8" lengthAdjust="spacingAndGlyphs">hasta</text>
<text x="915.4" y="81.3" textLength="26.6" lengthAdjust="spacingAndGlyphs">las</text>
<text x="961" y="81.3" textLength="179.8" lengthAdjust="spacingAndGlyphs">0000UTC_25DIC2025</text>
</g>
<rect x="916" y="878" width="208" height="19.5" fill="#fff" stroke="#A8A8A8" stroke-width="1"/>
<g font-family="DejaVu Sans" font-weight="200" font-size="14.6" stroke-width="0.55">
<text x="931" y="893.6" fill="#1E9BFF" stroke="#1E9BFF" textLength="21.4" lengthAdjust="spacingAndGlyphs">Sis</text>
<text x="952.4" y="893.6" font-size="19.5" fill="#2222E6" stroke="#2222E6" textLength="16.6" lengthAdjust="spacingAndGlyphs">π</text>
<text x="974" y="893.6" fill="#505050" stroke="#505050" textLength="8.4" lengthAdjust="spacingAndGlyphs">–</text>
<text x="993" y="893.6" fill="#505050" stroke="#505050" textLength="125" lengthAdjust="spacingAndGlyphs">ONAMET/REP.DOM.</text>
</g>
</svg>
</body></html>
